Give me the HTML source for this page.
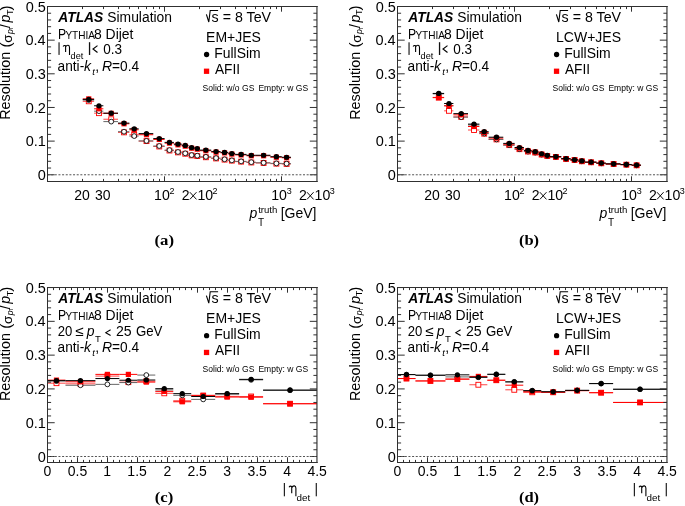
<!DOCTYPE html>
<html><head><meta charset="utf-8"><style>
html,body{margin:0;padding:0;background:#fff;overflow:hidden}
svg{display:block;will-change:transform}
text{font-family:"Liberation Sans",sans-serif;fill:#000}
.ser{font-family:"Liberation Serif",serif;font-weight:bold}
</style></head><body>
<svg width="685" height="506" viewBox="0 0 685 506">
<rect width="685" height="506" fill="#fff"/>
<line x1="82.76" y1="101.30" x2="94.11" y2="101.30" stroke="#f44" stroke-width="1"/>
<line x1="94.11" y1="113.18" x2="103.38" y2="113.18" stroke="#f44" stroke-width="1"/>
<line x1="103.38" y1="119.24" x2="118.01" y2="119.24" stroke="#f44" stroke-width="1"/>
<line x1="118.01" y1="132.37" x2="129.36" y2="132.37" stroke="#f44" stroke-width="1"/>
<line x1="129.36" y1="134.72" x2="138.64" y2="134.72" stroke="#f44" stroke-width="1"/>
<line x1="138.64" y1="141.12" x2="153.27" y2="141.12" stroke="#f44" stroke-width="1"/>
<line x1="153.27" y1="146.50" x2="164.62" y2="146.50" stroke="#f44" stroke-width="1"/>
<line x1="164.62" y1="150.54" x2="173.90" y2="150.54" stroke="#f44" stroke-width="1"/>
<line x1="173.90" y1="152.39" x2="181.74" y2="152.39" stroke="#f44" stroke-width="1"/>
<line x1="181.74" y1="153.74" x2="188.53" y2="153.74" stroke="#f44" stroke-width="1"/>
<line x1="188.53" y1="155.42" x2="194.52" y2="155.42" stroke="#f44" stroke-width="1"/>
<line x1="194.52" y1="156.09" x2="199.88" y2="156.09" stroke="#f44" stroke-width="1"/>
<line x1="199.88" y1="157.27" x2="211.23" y2="157.27" stroke="#f44" stroke-width="1"/>
<line x1="211.23" y1="158.45" x2="220.50" y2="158.45" stroke="#f44" stroke-width="1"/>
<line x1="220.50" y1="159.62" x2="228.34" y2="159.62" stroke="#f44" stroke-width="1"/>
<line x1="228.34" y1="160.63" x2="235.14" y2="160.63" stroke="#f44" stroke-width="1"/>
<line x1="235.14" y1="161.64" x2="246.49" y2="161.64" stroke="#f44" stroke-width="1"/>
<line x1="246.49" y1="162.49" x2="255.76" y2="162.49" stroke="#f44" stroke-width="1"/>
<line x1="255.76" y1="162.99" x2="270.39" y2="162.99" stroke="#f44" stroke-width="1"/>
<line x1="270.39" y1="163.66" x2="281.74" y2="163.66" stroke="#f44" stroke-width="1"/>
<line x1="281.74" y1="163.93" x2="291.02" y2="163.93" stroke="#f44" stroke-width="1"/>
<rect x="86.30" y="98.85" width="4.9" height="4.9" fill="#fff" stroke="#f00" stroke-width="0.9"/>
<rect x="96.51" y="110.73" width="4.9" height="4.9" fill="#fff" stroke="#f00" stroke-width="0.9"/>
<rect x="108.77" y="116.79" width="4.9" height="4.9" fill="#fff" stroke="#f00" stroke-width="0.9"/>
<rect x="121.56" y="129.92" width="4.9" height="4.9" fill="#fff" stroke="#f00" stroke-width="0.9"/>
<rect x="131.76" y="132.27" width="4.9" height="4.9" fill="#fff" stroke="#f00" stroke-width="0.9"/>
<rect x="144.03" y="138.67" width="4.9" height="4.9" fill="#fff" stroke="#f00" stroke-width="0.9"/>
<rect x="156.81" y="144.05" width="4.9" height="4.9" fill="#fff" stroke="#f00" stroke-width="0.9"/>
<rect x="167.02" y="148.09" width="4.9" height="4.9" fill="#fff" stroke="#f00" stroke-width="0.9"/>
<rect x="175.52" y="149.94" width="4.9" height="4.9" fill="#fff" stroke="#f00" stroke-width="0.9"/>
<rect x="182.80" y="151.29" width="4.9" height="4.9" fill="#fff" stroke="#f00" stroke-width="0.9"/>
<rect x="189.16" y="152.97" width="4.9" height="4.9" fill="#fff" stroke="#f00" stroke-width="0.9"/>
<rect x="194.82" y="153.64" width="4.9" height="4.9" fill="#fff" stroke="#f00" stroke-width="0.9"/>
<rect x="203.42" y="154.82" width="4.9" height="4.9" fill="#fff" stroke="#f00" stroke-width="0.9"/>
<rect x="213.63" y="156.00" width="4.9" height="4.9" fill="#fff" stroke="#f00" stroke-width="0.9"/>
<rect x="222.12" y="157.18" width="4.9" height="4.9" fill="#fff" stroke="#f00" stroke-width="0.9"/>
<rect x="229.40" y="158.18" width="4.9" height="4.9" fill="#fff" stroke="#f00" stroke-width="0.9"/>
<rect x="238.68" y="159.19" width="4.9" height="4.9" fill="#fff" stroke="#f00" stroke-width="0.9"/>
<rect x="248.88" y="160.04" width="4.9" height="4.9" fill="#fff" stroke="#f00" stroke-width="0.9"/>
<rect x="261.15" y="160.54" width="4.9" height="4.9" fill="#fff" stroke="#f00" stroke-width="0.9"/>
<rect x="273.93" y="161.21" width="4.9" height="4.9" fill="#fff" stroke="#f00" stroke-width="0.9"/>
<rect x="284.14" y="161.48" width="4.9" height="4.9" fill="#fff" stroke="#f00" stroke-width="0.9"/>
<line x1="82.76" y1="100.06" x2="94.11" y2="100.06" stroke="#666" stroke-width="1"/>
<line x1="94.11" y1="111.16" x2="103.38" y2="111.16" stroke="#666" stroke-width="1"/>
<line x1="103.38" y1="121.60" x2="118.01" y2="121.60" stroke="#666" stroke-width="1"/>
<line x1="118.01" y1="131.69" x2="129.36" y2="131.69" stroke="#666" stroke-width="1"/>
<line x1="129.36" y1="136.07" x2="138.64" y2="136.07" stroke="#666" stroke-width="1"/>
<line x1="138.64" y1="140.91" x2="153.27" y2="140.91" stroke="#666" stroke-width="1"/>
<line x1="153.27" y1="146.00" x2="164.62" y2="146.00" stroke="#666" stroke-width="1"/>
<line x1="164.62" y1="150.10" x2="173.90" y2="150.10" stroke="#666" stroke-width="1"/>
<line x1="173.90" y1="151.99" x2="181.74" y2="151.99" stroke="#666" stroke-width="1"/>
<line x1="181.74" y1="153.30" x2="188.53" y2="153.30" stroke="#666" stroke-width="1"/>
<line x1="188.53" y1="155.08" x2="194.52" y2="155.08" stroke="#666" stroke-width="1"/>
<line x1="194.52" y1="155.69" x2="199.88" y2="155.69" stroke="#666" stroke-width="1"/>
<line x1="199.88" y1="156.80" x2="211.23" y2="156.80" stroke="#666" stroke-width="1"/>
<line x1="211.23" y1="158.08" x2="220.50" y2="158.08" stroke="#666" stroke-width="1"/>
<line x1="220.50" y1="159.29" x2="228.34" y2="159.29" stroke="#666" stroke-width="1"/>
<line x1="228.34" y1="160.37" x2="235.14" y2="160.37" stroke="#666" stroke-width="1"/>
<line x1="235.14" y1="161.38" x2="246.49" y2="161.38" stroke="#666" stroke-width="1"/>
<line x1="246.49" y1="162.18" x2="255.76" y2="162.18" stroke="#666" stroke-width="1"/>
<line x1="255.76" y1="162.79" x2="270.39" y2="162.79" stroke="#666" stroke-width="1"/>
<line x1="270.39" y1="163.39" x2="281.74" y2="163.39" stroke="#666" stroke-width="1"/>
<line x1="281.74" y1="163.66" x2="291.02" y2="163.66" stroke="#666" stroke-width="1"/>
<circle cx="88.75" cy="100.06" r="2.4" fill="#fff" stroke="#000" stroke-width="0.85"/>
<circle cx="98.96" cy="111.16" r="2.4" fill="#fff" stroke="#000" stroke-width="0.85"/>
<circle cx="111.22" cy="121.60" r="2.4" fill="#fff" stroke="#000" stroke-width="0.85"/>
<circle cx="124.01" cy="131.69" r="2.4" fill="#fff" stroke="#000" stroke-width="0.85"/>
<circle cx="134.21" cy="136.07" r="2.4" fill="#fff" stroke="#000" stroke-width="0.85"/>
<circle cx="146.48" cy="140.91" r="2.4" fill="#fff" stroke="#000" stroke-width="0.85"/>
<circle cx="159.26" cy="146.00" r="2.4" fill="#fff" stroke="#000" stroke-width="0.85"/>
<circle cx="169.47" cy="150.10" r="2.4" fill="#fff" stroke="#000" stroke-width="0.85"/>
<circle cx="177.97" cy="151.99" r="2.4" fill="#fff" stroke="#000" stroke-width="0.85"/>
<circle cx="185.25" cy="153.30" r="2.4" fill="#fff" stroke="#000" stroke-width="0.85"/>
<circle cx="191.61" cy="155.08" r="2.4" fill="#fff" stroke="#000" stroke-width="0.85"/>
<circle cx="197.27" cy="155.69" r="2.4" fill="#fff" stroke="#000" stroke-width="0.85"/>
<circle cx="205.87" cy="156.80" r="2.4" fill="#fff" stroke="#000" stroke-width="0.85"/>
<circle cx="216.08" cy="158.08" r="2.4" fill="#fff" stroke="#000" stroke-width="0.85"/>
<circle cx="224.57" cy="159.29" r="2.4" fill="#fff" stroke="#000" stroke-width="0.85"/>
<circle cx="231.85" cy="160.37" r="2.4" fill="#fff" stroke="#000" stroke-width="0.85"/>
<circle cx="241.13" cy="161.38" r="2.4" fill="#fff" stroke="#000" stroke-width="0.85"/>
<circle cx="251.33" cy="162.18" r="2.4" fill="#fff" stroke="#000" stroke-width="0.85"/>
<circle cx="263.60" cy="162.79" r="2.4" fill="#fff" stroke="#000" stroke-width="0.85"/>
<circle cx="276.38" cy="163.39" r="2.4" fill="#fff" stroke="#000" stroke-width="0.85"/>
<circle cx="286.59" cy="163.66" r="2.4" fill="#fff" stroke="#000" stroke-width="0.85"/>
<line x1="82.76" y1="98.91" x2="94.11" y2="98.91" stroke="#f00" stroke-width="1"/>
<line x1="94.11" y1="108.81" x2="103.38" y2="108.81" stroke="#f00" stroke-width="1"/>
<line x1="103.38" y1="113.35" x2="118.01" y2="113.35" stroke="#f00" stroke-width="1"/>
<line x1="118.01" y1="123.78" x2="129.36" y2="123.78" stroke="#f00" stroke-width="1"/>
<line x1="129.36" y1="129.81" x2="138.64" y2="129.81" stroke="#f00" stroke-width="1"/>
<line x1="138.64" y1="134.72" x2="153.27" y2="134.72" stroke="#f00" stroke-width="1"/>
<line x1="153.27" y1="139.43" x2="164.62" y2="139.43" stroke="#f00" stroke-width="1"/>
<line x1="164.62" y1="143.13" x2="173.90" y2="143.13" stroke="#f00" stroke-width="1"/>
<line x1="173.90" y1="144.82" x2="181.74" y2="144.82" stroke="#f00" stroke-width="1"/>
<line x1="181.74" y1="146.16" x2="188.53" y2="146.16" stroke="#f00" stroke-width="1"/>
<line x1="188.53" y1="148.18" x2="194.52" y2="148.18" stroke="#f00" stroke-width="1"/>
<line x1="194.52" y1="149.19" x2="199.88" y2="149.19" stroke="#f00" stroke-width="1"/>
<line x1="199.88" y1="150.71" x2="211.23" y2="150.71" stroke="#f00" stroke-width="1"/>
<line x1="211.23" y1="152.15" x2="220.50" y2="152.15" stroke="#f00" stroke-width="1"/>
<line x1="220.50" y1="152.89" x2="228.34" y2="152.89" stroke="#f00" stroke-width="1"/>
<line x1="228.34" y1="154.07" x2="235.14" y2="154.07" stroke="#f00" stroke-width="1"/>
<line x1="235.14" y1="154.91" x2="246.49" y2="154.91" stroke="#f00" stroke-width="1"/>
<line x1="246.49" y1="155.75" x2="255.76" y2="155.75" stroke="#f00" stroke-width="1"/>
<line x1="255.76" y1="155.75" x2="270.39" y2="155.75" stroke="#f00" stroke-width="1"/>
<line x1="270.39" y1="157.20" x2="281.74" y2="157.20" stroke="#f00" stroke-width="1"/>
<line x1="281.74" y1="157.77" x2="291.02" y2="157.77" stroke="#f00" stroke-width="1"/>
<rect x="86.15" y="96.31" width="5.2" height="5.2" fill="#f00"/>
<rect x="96.36" y="106.21" width="5.2" height="5.2" fill="#f00"/>
<rect x="108.62" y="110.75" width="5.2" height="5.2" fill="#f00"/>
<rect x="121.41" y="121.18" width="5.2" height="5.2" fill="#f00"/>
<rect x="131.61" y="127.21" width="5.2" height="5.2" fill="#f00"/>
<rect x="143.88" y="132.12" width="5.2" height="5.2" fill="#f00"/>
<rect x="156.66" y="136.83" width="5.2" height="5.2" fill="#f00"/>
<rect x="166.87" y="140.53" width="5.2" height="5.2" fill="#f00"/>
<rect x="175.37" y="142.22" width="5.2" height="5.2" fill="#f00"/>
<rect x="182.65" y="143.56" width="5.2" height="5.2" fill="#f00"/>
<rect x="189.01" y="145.58" width="5.2" height="5.2" fill="#f00"/>
<rect x="194.67" y="146.59" width="5.2" height="5.2" fill="#f00"/>
<rect x="203.27" y="148.11" width="5.2" height="5.2" fill="#f00"/>
<rect x="213.48" y="149.55" width="5.2" height="5.2" fill="#f00"/>
<rect x="221.97" y="150.29" width="5.2" height="5.2" fill="#f00"/>
<rect x="229.25" y="151.47" width="5.2" height="5.2" fill="#f00"/>
<rect x="238.53" y="152.31" width="5.2" height="5.2" fill="#f00"/>
<rect x="248.73" y="153.15" width="5.2" height="5.2" fill="#f00"/>
<rect x="261.00" y="153.15" width="5.2" height="5.2" fill="#f00"/>
<rect x="273.78" y="154.60" width="5.2" height="5.2" fill="#f00"/>
<rect x="283.99" y="155.17" width="5.2" height="5.2" fill="#f00"/>
<line x1="82.76" y1="99.38" x2="94.11" y2="99.38" stroke="#000" stroke-width="1"/>
<line x1="94.11" y1="105.78" x2="103.38" y2="105.78" stroke="#000" stroke-width="1"/>
<line x1="103.38" y1="113.18" x2="118.01" y2="113.18" stroke="#000" stroke-width="1"/>
<line x1="118.01" y1="123.11" x2="129.36" y2="123.11" stroke="#000" stroke-width="1"/>
<line x1="129.36" y1="128.80" x2="138.64" y2="128.80" stroke="#000" stroke-width="1"/>
<line x1="138.64" y1="133.61" x2="153.27" y2="133.61" stroke="#000" stroke-width="1"/>
<line x1="153.27" y1="138.59" x2="164.62" y2="138.59" stroke="#000" stroke-width="1"/>
<line x1="164.62" y1="142.39" x2="173.90" y2="142.39" stroke="#000" stroke-width="1"/>
<line x1="173.90" y1="144.08" x2="181.74" y2="144.08" stroke="#000" stroke-width="1"/>
<line x1="181.74" y1="145.39" x2="188.53" y2="145.39" stroke="#000" stroke-width="1"/>
<line x1="188.53" y1="147.58" x2="194.52" y2="147.58" stroke="#000" stroke-width="1"/>
<line x1="194.52" y1="148.52" x2="199.88" y2="148.52" stroke="#000" stroke-width="1"/>
<line x1="199.88" y1="150.10" x2="211.23" y2="150.10" stroke="#000" stroke-width="1"/>
<line x1="211.23" y1="151.58" x2="220.50" y2="151.58" stroke="#000" stroke-width="1"/>
<line x1="220.50" y1="152.39" x2="228.34" y2="152.39" stroke="#000" stroke-width="1"/>
<line x1="228.34" y1="153.57" x2="235.14" y2="153.57" stroke="#000" stroke-width="1"/>
<line x1="235.14" y1="154.38" x2="246.49" y2="154.38" stroke="#000" stroke-width="1"/>
<line x1="246.49" y1="155.25" x2="255.76" y2="155.25" stroke="#000" stroke-width="1"/>
<line x1="255.76" y1="155.25" x2="270.39" y2="155.25" stroke="#000" stroke-width="1"/>
<line x1="270.39" y1="156.70" x2="281.74" y2="156.70" stroke="#000" stroke-width="1"/>
<line x1="281.74" y1="157.27" x2="291.02" y2="157.27" stroke="#000" stroke-width="1"/>
<circle cx="88.75" cy="99.38" r="2.6" fill="#000"/>
<circle cx="98.96" cy="105.78" r="2.6" fill="#000"/>
<circle cx="111.22" cy="113.18" r="2.6" fill="#000"/>
<circle cx="124.01" cy="123.11" r="2.6" fill="#000"/>
<circle cx="134.21" cy="128.80" r="2.6" fill="#000"/>
<circle cx="146.48" cy="133.61" r="2.6" fill="#000"/>
<circle cx="159.26" cy="138.59" r="2.6" fill="#000"/>
<circle cx="169.47" cy="142.39" r="2.6" fill="#000"/>
<circle cx="177.97" cy="144.08" r="2.6" fill="#000"/>
<circle cx="185.25" cy="145.39" r="2.6" fill="#000"/>
<circle cx="191.61" cy="147.58" r="2.6" fill="#000"/>
<circle cx="197.27" cy="148.52" r="2.6" fill="#000"/>
<circle cx="205.87" cy="150.10" r="2.6" fill="#000"/>
<circle cx="216.08" cy="151.58" r="2.6" fill="#000"/>
<circle cx="224.57" cy="152.39" r="2.6" fill="#000"/>
<circle cx="231.85" cy="153.57" r="2.6" fill="#000"/>
<circle cx="241.13" cy="154.38" r="2.6" fill="#000"/>
<circle cx="251.33" cy="155.25" r="2.6" fill="#000"/>
<circle cx="263.60" cy="155.25" r="2.6" fill="#000"/>
<circle cx="276.38" cy="156.70" r="2.6" fill="#000"/>
<circle cx="286.59" cy="157.27" r="2.6" fill="#000"/>
<path d="M47.5,174.77h7.2M317.0,174.77h-7.2M47.5,168.04h3.6M317.0,168.04h-3.6M47.5,161.31h3.6M317.0,161.31h-3.6M47.5,154.58h3.6M317.0,154.58h-3.6M47.5,147.85h3.6M317.0,147.85h-3.6M47.5,141.12h7.2M317.0,141.12h-7.2M47.5,134.38h3.6M317.0,134.38h-3.6M47.5,127.65h3.6M317.0,127.65h-3.6M47.5,120.92h3.6M317.0,120.92h-3.6M47.5,114.19h3.6M317.0,114.19h-3.6M47.5,107.46h7.2M317.0,107.46h-7.2M47.5,100.73h3.6M317.0,100.73h-3.6M47.5,94.00h3.6M317.0,94.00h-3.6M47.5,87.27h3.6M317.0,87.27h-3.6M47.5,80.54h3.6M317.0,80.54h-3.6M47.5,73.81h7.2M317.0,73.81h-7.2M47.5,67.08h3.6M317.0,67.08h-3.6M47.5,60.35h3.6M317.0,60.35h-3.6M47.5,53.62h3.6M317.0,53.62h-3.6M47.5,46.88h3.6M317.0,46.88h-3.6M47.5,40.15h7.2M317.0,40.15h-7.2M47.5,33.42h3.6M317.0,33.42h-3.6M47.5,26.69h3.6M317.0,26.69h-3.6M47.5,19.96h3.6M317.0,19.96h-3.6M47.5,13.23h3.6M317.0,13.23h-3.6M47.5,6.50h7.2M317.0,6.50h-7.2M82.50,181.5v-2.6M82.50,6.5v2.6M103.50,181.5v-2.6M103.50,6.5v2.6M118.50,181.5v-2.6M118.50,6.5v2.6M129.50,181.5v-2.6M129.50,6.5v2.6M138.50,181.5v-2.6M138.50,6.5v2.6M146.50,181.5v-2.6M146.50,6.5v2.6M153.50,181.5v-2.6M153.50,6.5v2.6M159.50,181.5v-2.6M159.50,6.5v2.6M164.50,181.5v-5.2M164.50,6.5v5.2M199.50,181.5v-2.6M199.50,6.5v2.6M220.50,181.5v-2.6M220.50,6.5v2.6M235.50,181.5v-2.6M235.50,6.5v2.6M246.50,181.5v-2.6M246.50,6.5v2.6M255.50,181.5v-2.6M255.50,6.5v2.6M263.50,181.5v-2.6M263.50,6.5v2.6M270.50,181.5v-2.6M270.50,6.5v2.6M276.50,181.5v-2.6M276.50,6.5v2.6M281.50,181.5v-5.2M281.50,6.5v5.2" stroke="#303030" stroke-width="1" fill="none"/>
<line x1="47.5" y1="174.77" x2="317.0" y2="174.77" stroke="#555" stroke-width="1" stroke-dasharray="2,1.65"/>
<path d="M47.5,6.0V182.0M47.0,6.5H317.7M47.0,181.5H317.7" fill="none" stroke="#303030" stroke-width="1"/>
<path d="M316.95,6.0V182.0" fill="none" stroke="#303030" stroke-width="1.15"/>
<text id="a_yl0" x="37.70" y="179.87" font-size="14.5">0</text>
<text id="a_yl1" x="25.75" y="146.22" font-size="14.5">0.1</text>
<text id="a_yl2" x="25.77" y="112.56" font-size="14.5">0.2</text>
<text id="a_yl3" x="25.68" y="78.91" font-size="14.5">0.3</text>
<text id="a_yl4" x="25.47" y="45.25" font-size="14.5">0.4</text>
<text id="a_yl5" x="25.65" y="11.60" font-size="14.5">0.5</text>
<text id="a_x20" x="74.34" y="199.80" font-size="14">20</text>
<text id="a_x30" x="95.02" y="199.80" font-size="14">30</text>
<text id="a_x100" x="154.09" y="199.80" font-size="14" textLength="15.73" lengthAdjust="spacingAndGlyphs">10</text>
<text id="a_x100s" x="169.42" y="193.70" font-size="9">2</text>
<text id="a_x200a" x="181.77" y="199.80" font-size="14">2</text>
<path d="M189.88,192.20L196.48,199.40M196.48,192.20L189.88,199.40" stroke="#000" stroke-width="0.95" fill="none"/>
<text id="a_x200b" x="197.50" y="199.80" font-size="14" textLength="15.73" lengthAdjust="spacingAndGlyphs">10</text>
<text id="a_x200s" x="212.43" y="193.70" font-size="9">2</text>
<text id="a_x1000" x="271.22" y="199.80" font-size="14" textLength="15.73" lengthAdjust="spacingAndGlyphs">10</text>
<text id="a_x1000s" x="286.65" y="193.70" font-size="9">3</text>
<text id="a_x2000a" x="298.90" y="199.80" font-size="14">2</text>
<path d="M307.00,192.20L313.60,199.40M313.60,192.20L307.00,199.40" stroke="#000" stroke-width="0.95" fill="none"/>
<text id="a_x2000b" x="314.62" y="199.80" font-size="14" textLength="15.73" lengthAdjust="spacingAndGlyphs">10</text>
<text id="a_x2000s" x="329.66" y="193.70" font-size="9">3</text>
<text id="a_xt_p" x="249.55" y="217.90" font-size="14" font-style="italic">p</text>
<text id="a_xt_tr" x="258.16" y="212.80" font-size="9.6" textLength="19.17" lengthAdjust="spacingAndGlyphs">truth</text>
<text id="a_xt_T" x="258.08" y="225.50" font-size="10">T</text>
<text id="a_xt_gev" x="280.70" y="218.30" font-size="14">[GeV]</text>
<text id="a_yt1" transform="translate(10.30,118.70) rotate(-90)" x="-1.18" y="0" font-size="14.6" textLength="68.12" lengthAdjust="spacingAndGlyphs">Resolution</text>
<text id="a_yt2" transform="translate(10.80,118.70) rotate(-90)" x="71.26" y="0" font-size="15.2">(</text>
<text id="a_yt3" transform="translate(11.90,118.70) rotate(-90)" x="75.93" y="0" font-size="13.5">σ</text>
<text id="a_yt4" transform="translate(12.50,118.70) rotate(-90)" x="84.71" y="0" font-size="8.5" font-style="italic">p</text>
<text id="a_yt5" transform="translate(13.30,118.70) rotate(-90)" x="88.57" y="0" font-size="6">T</text>
<text id="a_yt6" transform="translate(10.30,118.70) rotate(-90)" x="90.70" y="0" font-size="14.2">/</text>
<text id="a_yt7" transform="translate(10.30,118.70) rotate(-90)" x="96.25" y="0" font-size="14.2" font-style="italic">p</text>
<text id="a_yt8" transform="translate(12.90,118.70) rotate(-90)" x="103.70" y="0" font-size="9">T</text>
<text id="a_yt9" transform="translate(10.80,118.70) rotate(-90)" x="108.11" y="0" font-size="15.2">)</text>
<text id="a_atlas" x="58.33" y="22.00" font-size="14" font-weight="bold" font-style="italic" textLength="44.96" lengthAdjust="spacingAndGlyphs">ATLAS</text>
<text id="a_sim" x="107.27" y="22.00" font-size="14" textLength="64.73" lengthAdjust="spacingAndGlyphs">Simulation</text>
<text id="a_pyP" x="58.10" y="38.70" font-size="14" textLength="8.15" lengthAdjust="spacingAndGlyphs">P</text>
<text id="a_pyY" x="65.38" y="38.70" font-size="10.2" textLength="29.54" lengthAdjust="spacingAndGlyphs">YTHIA</text>
<text id="a_pyD" x="93.99" y="38.70" font-size="14" textLength="39.51" lengthAdjust="spacingAndGlyphs">8 Dijet</text>
<rect x="58.4" y="42.3" width="1.3" height="12.6" fill="#333"/>
<rect x="88.9" y="42.2" width="1.3" height="12.8" fill="#111"/>
<path d="M63.10,46.50Q64.10,44.90 65.60,45.80L65.60,52.00M65.60,47.00Q66.70,45.00 68.10,45.30Q69.50,45.60 69.50,47.40L69.50,54.90" fill="none" stroke="#000" stroke-width="1.1"/>
<text id="a_det" x="70.61" y="58.60" font-size="9.3" textLength="12.75" lengthAdjust="spacingAndGlyphs">det</text>
<path d="M97.5,45.6L93.0,49.05L97.5,52.5" fill="none" stroke="#000" stroke-width="1.15"/>
<text id="a_03" x="103.17" y="53.70" font-size="14" textLength="18.82" lengthAdjust="spacingAndGlyphs">0.3</text>
<text id="a_anti" x="57.62" y="70.90" font-size="14" textLength="26.59" lengthAdjust="spacingAndGlyphs">anti-</text>
<text id="a_k" x="84.07" y="70.90" font-size="14" font-style="italic">k</text>
<text id="a_t" x="92.17" y="74.50" font-size="9.5" font-style="italic">t</text>
<text id="a_comma" x="95.14" y="70.90" font-size="14">,</text>
<text id="a_R" x="101.97" y="70.90" font-size="14" font-style="italic">R</text>
<text id="a_eq" x="112.03" y="70.90" font-size="14" textLength="27.07" lengthAdjust="spacingAndGlyphs">=0.4</text>
<path d="M206.4,14.4L208.8,22.0L210.2,10.5H218.1" fill="none" stroke="#000" stroke-width="1.1"/>
<text id="a_sqrt" x="211.62" y="21.80" font-size="14" textLength="59.44" lengthAdjust="spacingAndGlyphs">s = 8 TeV</text>
<text id="a_alg" x="206.05" y="41.50" font-size="14">EM+JES</text>
<circle cx="206.6" cy="54.5" r="2.65" fill="#000"/>
<text id="a_fs" x="214.26" y="57.60" font-size="14" textLength="46.46" lengthAdjust="spacingAndGlyphs">FullSim</text>
<rect x="203.9" y="68.6" width="5.3" height="5.3" fill="#f00"/>
<text id="a_af" x="214.97" y="73.90" font-size="14" textLength="25.09" lengthAdjust="spacingAndGlyphs">AFII</text>
<text id="a_sm1" x="202.51" y="91.00" font-size="8.6" textLength="51.88" lengthAdjust="spacingAndGlyphs">Solid: w/o GS</text>
<text id="a_sm2" x="258.40" y="91.00" font-size="8.6" textLength="49.79" lengthAdjust="spacingAndGlyphs">Empty: w GS</text>
<line x1="432.76" y1="97.70" x2="444.11" y2="97.70" stroke="#f44" stroke-width="1"/>
<line x1="444.11" y1="110.83" x2="453.38" y2="110.83" stroke="#f44" stroke-width="1"/>
<line x1="453.38" y1="116.88" x2="468.01" y2="116.88" stroke="#f44" stroke-width="1"/>
<line x1="468.01" y1="130.01" x2="479.36" y2="130.01" stroke="#f44" stroke-width="1"/>
<line x1="479.36" y1="133.71" x2="488.64" y2="133.71" stroke="#f44" stroke-width="1"/>
<line x1="488.64" y1="139.43" x2="503.27" y2="139.43" stroke="#f44" stroke-width="1"/>
<line x1="503.27" y1="145.15" x2="514.62" y2="145.15" stroke="#f44" stroke-width="1"/>
<line x1="514.62" y1="149.19" x2="523.90" y2="149.19" stroke="#f44" stroke-width="1"/>
<line x1="523.90" y1="151.55" x2="531.74" y2="151.55" stroke="#f44" stroke-width="1"/>
<line x1="531.74" y1="152.56" x2="538.53" y2="152.56" stroke="#f44" stroke-width="1"/>
<line x1="538.53" y1="154.58" x2="544.52" y2="154.58" stroke="#f44" stroke-width="1"/>
<line x1="544.52" y1="155.92" x2="549.88" y2="155.92" stroke="#f44" stroke-width="1"/>
<line x1="549.88" y1="156.93" x2="561.23" y2="156.93" stroke="#f44" stroke-width="1"/>
<line x1="561.23" y1="158.95" x2="570.50" y2="158.95" stroke="#f44" stroke-width="1"/>
<line x1="570.50" y1="159.96" x2="578.34" y2="159.96" stroke="#f44" stroke-width="1"/>
<line x1="578.34" y1="161.31" x2="585.14" y2="161.31" stroke="#f44" stroke-width="1"/>
<line x1="585.14" y1="162.32" x2="596.49" y2="162.32" stroke="#f44" stroke-width="1"/>
<line x1="596.49" y1="163.33" x2="605.76" y2="163.33" stroke="#f44" stroke-width="1"/>
<line x1="605.76" y1="164.00" x2="620.39" y2="164.00" stroke="#f44" stroke-width="1"/>
<line x1="620.39" y1="164.67" x2="631.74" y2="164.67" stroke="#f44" stroke-width="1"/>
<line x1="631.74" y1="165.35" x2="641.02" y2="165.35" stroke="#f44" stroke-width="1"/>
<rect x="436.30" y="95.25" width="4.9" height="4.9" fill="#fff" stroke="#f00" stroke-width="0.9"/>
<rect x="446.51" y="108.38" width="4.9" height="4.9" fill="#fff" stroke="#f00" stroke-width="0.9"/>
<rect x="458.77" y="114.43" width="4.9" height="4.9" fill="#fff" stroke="#f00" stroke-width="0.9"/>
<rect x="471.56" y="127.56" width="4.9" height="4.9" fill="#fff" stroke="#f00" stroke-width="0.9"/>
<rect x="481.76" y="131.26" width="4.9" height="4.9" fill="#fff" stroke="#f00" stroke-width="0.9"/>
<rect x="494.03" y="136.98" width="4.9" height="4.9" fill="#fff" stroke="#f00" stroke-width="0.9"/>
<rect x="506.81" y="142.70" width="4.9" height="4.9" fill="#fff" stroke="#f00" stroke-width="0.9"/>
<rect x="517.02" y="146.74" width="4.9" height="4.9" fill="#fff" stroke="#f00" stroke-width="0.9"/>
<rect x="525.52" y="149.10" width="4.9" height="4.9" fill="#fff" stroke="#f00" stroke-width="0.9"/>
<rect x="532.80" y="150.11" width="4.9" height="4.9" fill="#fff" stroke="#f00" stroke-width="0.9"/>
<rect x="539.16" y="152.13" width="4.9" height="4.9" fill="#fff" stroke="#f00" stroke-width="0.9"/>
<rect x="544.82" y="153.47" width="4.9" height="4.9" fill="#fff" stroke="#f00" stroke-width="0.9"/>
<rect x="553.42" y="154.48" width="4.9" height="4.9" fill="#fff" stroke="#f00" stroke-width="0.9"/>
<rect x="563.63" y="156.50" width="4.9" height="4.9" fill="#fff" stroke="#f00" stroke-width="0.9"/>
<rect x="572.12" y="157.51" width="4.9" height="4.9" fill="#fff" stroke="#f00" stroke-width="0.9"/>
<rect x="579.40" y="158.86" width="4.9" height="4.9" fill="#fff" stroke="#f00" stroke-width="0.9"/>
<rect x="588.68" y="159.87" width="4.9" height="4.9" fill="#fff" stroke="#f00" stroke-width="0.9"/>
<rect x="598.88" y="160.88" width="4.9" height="4.9" fill="#fff" stroke="#f00" stroke-width="0.9"/>
<rect x="611.15" y="161.55" width="4.9" height="4.9" fill="#fff" stroke="#f00" stroke-width="0.9"/>
<rect x="623.93" y="162.22" width="4.9" height="4.9" fill="#fff" stroke="#f00" stroke-width="0.9"/>
<rect x="634.14" y="162.90" width="4.9" height="4.9" fill="#fff" stroke="#f00" stroke-width="0.9"/>
<line x1="432.76" y1="93.83" x2="444.11" y2="93.83" stroke="#666" stroke-width="1"/>
<line x1="444.11" y1="105.78" x2="453.38" y2="105.78" stroke="#666" stroke-width="1"/>
<line x1="453.38" y1="117.12" x2="468.01" y2="117.12" stroke="#666" stroke-width="1"/>
<line x1="468.01" y1="124.96" x2="479.36" y2="124.96" stroke="#666" stroke-width="1"/>
<line x1="479.36" y1="133.51" x2="488.64" y2="133.51" stroke="#666" stroke-width="1"/>
<line x1="488.64" y1="139.43" x2="503.27" y2="139.43" stroke="#666" stroke-width="1"/>
<line x1="503.27" y1="145.15" x2="514.62" y2="145.15" stroke="#666" stroke-width="1"/>
<line x1="514.62" y1="149.19" x2="523.90" y2="149.19" stroke="#666" stroke-width="1"/>
<line x1="523.90" y1="151.55" x2="531.74" y2="151.55" stroke="#666" stroke-width="1"/>
<line x1="531.74" y1="152.56" x2="538.53" y2="152.56" stroke="#666" stroke-width="1"/>
<line x1="538.53" y1="154.58" x2="544.52" y2="154.58" stroke="#666" stroke-width="1"/>
<line x1="544.52" y1="155.92" x2="549.88" y2="155.92" stroke="#666" stroke-width="1"/>
<line x1="549.88" y1="156.93" x2="561.23" y2="156.93" stroke="#666" stroke-width="1"/>
<line x1="561.23" y1="158.95" x2="570.50" y2="158.95" stroke="#666" stroke-width="1"/>
<line x1="570.50" y1="159.96" x2="578.34" y2="159.96" stroke="#666" stroke-width="1"/>
<line x1="578.34" y1="161.31" x2="585.14" y2="161.31" stroke="#666" stroke-width="1"/>
<line x1="585.14" y1="162.32" x2="596.49" y2="162.32" stroke="#666" stroke-width="1"/>
<line x1="596.49" y1="163.33" x2="605.76" y2="163.33" stroke="#666" stroke-width="1"/>
<line x1="605.76" y1="164.00" x2="620.39" y2="164.00" stroke="#666" stroke-width="1"/>
<line x1="620.39" y1="164.67" x2="631.74" y2="164.67" stroke="#666" stroke-width="1"/>
<line x1="631.74" y1="165.35" x2="641.02" y2="165.35" stroke="#666" stroke-width="1"/>
<circle cx="438.75" cy="93.83" r="2.4" fill="#fff" stroke="#000" stroke-width="0.85"/>
<circle cx="448.96" cy="105.78" r="2.4" fill="#fff" stroke="#000" stroke-width="0.85"/>
<circle cx="461.22" cy="117.12" r="2.4" fill="#fff" stroke="#000" stroke-width="0.85"/>
<circle cx="474.01" cy="124.96" r="2.4" fill="#fff" stroke="#000" stroke-width="0.85"/>
<circle cx="484.21" cy="133.51" r="2.4" fill="#fff" stroke="#000" stroke-width="0.85"/>
<circle cx="496.48" cy="139.43" r="2.4" fill="#fff" stroke="#000" stroke-width="0.85"/>
<circle cx="509.26" cy="145.15" r="2.4" fill="#fff" stroke="#000" stroke-width="0.85"/>
<circle cx="519.47" cy="149.19" r="2.4" fill="#fff" stroke="#000" stroke-width="0.85"/>
<circle cx="527.97" cy="151.55" r="2.4" fill="#fff" stroke="#000" stroke-width="0.85"/>
<circle cx="535.25" cy="152.56" r="2.4" fill="#fff" stroke="#000" stroke-width="0.85"/>
<circle cx="541.61" cy="154.58" r="2.4" fill="#fff" stroke="#000" stroke-width="0.85"/>
<circle cx="547.27" cy="155.92" r="2.4" fill="#fff" stroke="#000" stroke-width="0.85"/>
<circle cx="555.87" cy="156.93" r="2.4" fill="#fff" stroke="#000" stroke-width="0.85"/>
<circle cx="566.08" cy="158.95" r="2.4" fill="#fff" stroke="#000" stroke-width="0.85"/>
<circle cx="574.57" cy="159.96" r="2.4" fill="#fff" stroke="#000" stroke-width="0.85"/>
<circle cx="581.85" cy="161.31" r="2.4" fill="#fff" stroke="#000" stroke-width="0.85"/>
<circle cx="591.13" cy="162.32" r="2.4" fill="#fff" stroke="#000" stroke-width="0.85"/>
<circle cx="601.33" cy="163.33" r="2.4" fill="#fff" stroke="#000" stroke-width="0.85"/>
<circle cx="613.60" cy="164.00" r="2.4" fill="#fff" stroke="#000" stroke-width="0.85"/>
<circle cx="626.38" cy="164.67" r="2.4" fill="#fff" stroke="#000" stroke-width="0.85"/>
<circle cx="636.59" cy="165.35" r="2.4" fill="#fff" stroke="#000" stroke-width="0.85"/>
<line x1="432.76" y1="97.43" x2="444.11" y2="97.43" stroke="#f00" stroke-width="1"/>
<line x1="444.11" y1="105.78" x2="453.38" y2="105.78" stroke="#f00" stroke-width="1"/>
<line x1="453.38" y1="114.87" x2="468.01" y2="114.87" stroke="#f00" stroke-width="1"/>
<line x1="468.01" y1="126.51" x2="479.36" y2="126.51" stroke="#f00" stroke-width="1"/>
<line x1="479.36" y1="132.37" x2="488.64" y2="132.37" stroke="#f00" stroke-width="1"/>
<line x1="488.64" y1="138.09" x2="503.27" y2="138.09" stroke="#f00" stroke-width="1"/>
<line x1="503.27" y1="144.14" x2="514.62" y2="144.14" stroke="#f00" stroke-width="1"/>
<line x1="514.62" y1="148.18" x2="523.90" y2="148.18" stroke="#f00" stroke-width="1"/>
<line x1="523.90" y1="150.88" x2="531.74" y2="150.88" stroke="#f00" stroke-width="1"/>
<line x1="531.74" y1="152.22" x2="538.53" y2="152.22" stroke="#f00" stroke-width="1"/>
<line x1="538.53" y1="154.24" x2="544.52" y2="154.24" stroke="#f00" stroke-width="1"/>
<line x1="544.52" y1="155.75" x2="549.88" y2="155.75" stroke="#f00" stroke-width="1"/>
<line x1="549.88" y1="156.93" x2="561.23" y2="156.93" stroke="#f00" stroke-width="1"/>
<line x1="561.23" y1="158.95" x2="570.50" y2="158.95" stroke="#f00" stroke-width="1"/>
<line x1="570.50" y1="160.13" x2="578.34" y2="160.13" stroke="#f00" stroke-width="1"/>
<line x1="578.34" y1="161.31" x2="585.14" y2="161.31" stroke="#f00" stroke-width="1"/>
<line x1="585.14" y1="162.32" x2="596.49" y2="162.32" stroke="#f00" stroke-width="1"/>
<line x1="596.49" y1="163.33" x2="605.76" y2="163.33" stroke="#f00" stroke-width="1"/>
<line x1="605.76" y1="164.00" x2="620.39" y2="164.00" stroke="#f00" stroke-width="1"/>
<line x1="620.39" y1="164.67" x2="631.74" y2="164.67" stroke="#f00" stroke-width="1"/>
<line x1="631.74" y1="165.35" x2="641.02" y2="165.35" stroke="#f00" stroke-width="1"/>
<rect x="436.15" y="94.83" width="5.2" height="5.2" fill="#f00"/>
<rect x="446.36" y="103.18" width="5.2" height="5.2" fill="#f00"/>
<rect x="458.62" y="112.27" width="5.2" height="5.2" fill="#f00"/>
<rect x="471.41" y="123.91" width="5.2" height="5.2" fill="#f00"/>
<rect x="481.61" y="129.77" width="5.2" height="5.2" fill="#f00"/>
<rect x="493.88" y="135.49" width="5.2" height="5.2" fill="#f00"/>
<rect x="506.66" y="141.54" width="5.2" height="5.2" fill="#f00"/>
<rect x="516.87" y="145.58" width="5.2" height="5.2" fill="#f00"/>
<rect x="525.37" y="148.28" width="5.2" height="5.2" fill="#f00"/>
<rect x="532.65" y="149.62" width="5.2" height="5.2" fill="#f00"/>
<rect x="539.01" y="151.64" width="5.2" height="5.2" fill="#f00"/>
<rect x="544.67" y="153.15" width="5.2" height="5.2" fill="#f00"/>
<rect x="553.27" y="154.33" width="5.2" height="5.2" fill="#f00"/>
<rect x="563.48" y="156.35" width="5.2" height="5.2" fill="#f00"/>
<rect x="571.97" y="157.53" width="5.2" height="5.2" fill="#f00"/>
<rect x="579.25" y="158.71" width="5.2" height="5.2" fill="#f00"/>
<rect x="588.53" y="159.72" width="5.2" height="5.2" fill="#f00"/>
<rect x="598.73" y="160.73" width="5.2" height="5.2" fill="#f00"/>
<rect x="611.00" y="161.40" width="5.2" height="5.2" fill="#f00"/>
<rect x="623.78" y="162.07" width="5.2" height="5.2" fill="#f00"/>
<rect x="633.99" y="162.75" width="5.2" height="5.2" fill="#f00"/>
<line x1="432.76" y1="93.43" x2="444.11" y2="93.43" stroke="#000" stroke-width="1"/>
<line x1="444.11" y1="103.52" x2="453.38" y2="103.52" stroke="#000" stroke-width="1"/>
<line x1="453.38" y1="113.62" x2="468.01" y2="113.62" stroke="#000" stroke-width="1"/>
<line x1="468.01" y1="124.12" x2="479.36" y2="124.12" stroke="#000" stroke-width="1"/>
<line x1="479.36" y1="131.69" x2="488.64" y2="131.69" stroke="#000" stroke-width="1"/>
<line x1="488.64" y1="137.21" x2="503.27" y2="137.21" stroke="#000" stroke-width="1"/>
<line x1="503.27" y1="143.40" x2="514.62" y2="143.40" stroke="#000" stroke-width="1"/>
<line x1="514.62" y1="147.51" x2="523.90" y2="147.51" stroke="#000" stroke-width="1"/>
<line x1="523.90" y1="150.40" x2="531.74" y2="150.40" stroke="#000" stroke-width="1"/>
<line x1="531.74" y1="151.68" x2="538.53" y2="151.68" stroke="#000" stroke-width="1"/>
<line x1="538.53" y1="153.74" x2="544.52" y2="153.74" stroke="#000" stroke-width="1"/>
<line x1="544.52" y1="155.35" x2="549.88" y2="155.35" stroke="#000" stroke-width="1"/>
<line x1="549.88" y1="156.60" x2="561.23" y2="156.60" stroke="#000" stroke-width="1"/>
<line x1="561.23" y1="158.58" x2="570.50" y2="158.58" stroke="#000" stroke-width="1"/>
<line x1="570.50" y1="159.83" x2="578.34" y2="159.83" stroke="#000" stroke-width="1"/>
<line x1="578.34" y1="160.97" x2="585.14" y2="160.97" stroke="#000" stroke-width="1"/>
<line x1="585.14" y1="162.08" x2="596.49" y2="162.08" stroke="#000" stroke-width="1"/>
<line x1="596.49" y1="163.09" x2="605.76" y2="163.09" stroke="#000" stroke-width="1"/>
<line x1="605.76" y1="163.87" x2="620.39" y2="163.87" stroke="#000" stroke-width="1"/>
<line x1="620.39" y1="164.47" x2="631.74" y2="164.47" stroke="#000" stroke-width="1"/>
<line x1="631.74" y1="165.11" x2="641.02" y2="165.11" stroke="#000" stroke-width="1"/>
<circle cx="438.75" cy="93.43" r="2.6" fill="#000"/>
<circle cx="448.96" cy="103.52" r="2.6" fill="#000"/>
<circle cx="461.22" cy="113.62" r="2.6" fill="#000"/>
<circle cx="474.01" cy="124.12" r="2.6" fill="#000"/>
<circle cx="484.21" cy="131.69" r="2.6" fill="#000"/>
<circle cx="496.48" cy="137.21" r="2.6" fill="#000"/>
<circle cx="509.26" cy="143.40" r="2.6" fill="#000"/>
<circle cx="519.47" cy="147.51" r="2.6" fill="#000"/>
<circle cx="527.97" cy="150.40" r="2.6" fill="#000"/>
<circle cx="535.25" cy="151.68" r="2.6" fill="#000"/>
<circle cx="541.61" cy="153.74" r="2.6" fill="#000"/>
<circle cx="547.27" cy="155.35" r="2.6" fill="#000"/>
<circle cx="555.87" cy="156.60" r="2.6" fill="#000"/>
<circle cx="566.08" cy="158.58" r="2.6" fill="#000"/>
<circle cx="574.57" cy="159.83" r="2.6" fill="#000"/>
<circle cx="581.85" cy="160.97" r="2.6" fill="#000"/>
<circle cx="591.13" cy="162.08" r="2.6" fill="#000"/>
<circle cx="601.33" cy="163.09" r="2.6" fill="#000"/>
<circle cx="613.60" cy="163.87" r="2.6" fill="#000"/>
<circle cx="626.38" cy="164.47" r="2.6" fill="#000"/>
<circle cx="636.59" cy="165.11" r="2.6" fill="#000"/>
<path d="M397.5,174.77h7.2M667.0,174.77h-7.2M397.5,168.04h3.6M667.0,168.04h-3.6M397.5,161.31h3.6M667.0,161.31h-3.6M397.5,154.58h3.6M667.0,154.58h-3.6M397.5,147.85h3.6M667.0,147.85h-3.6M397.5,141.12h7.2M667.0,141.12h-7.2M397.5,134.38h3.6M667.0,134.38h-3.6M397.5,127.65h3.6M667.0,127.65h-3.6M397.5,120.92h3.6M667.0,120.92h-3.6M397.5,114.19h3.6M667.0,114.19h-3.6M397.5,107.46h7.2M667.0,107.46h-7.2M397.5,100.73h3.6M667.0,100.73h-3.6M397.5,94.00h3.6M667.0,94.00h-3.6M397.5,87.27h3.6M667.0,87.27h-3.6M397.5,80.54h3.6M667.0,80.54h-3.6M397.5,73.81h7.2M667.0,73.81h-7.2M397.5,67.08h3.6M667.0,67.08h-3.6M397.5,60.35h3.6M667.0,60.35h-3.6M397.5,53.62h3.6M667.0,53.62h-3.6M397.5,46.88h3.6M667.0,46.88h-3.6M397.5,40.15h7.2M667.0,40.15h-7.2M397.5,33.42h3.6M667.0,33.42h-3.6M397.5,26.69h3.6M667.0,26.69h-3.6M397.5,19.96h3.6M667.0,19.96h-3.6M397.5,13.23h3.6M667.0,13.23h-3.6M397.5,6.50h7.2M667.0,6.50h-7.2M432.50,181.5v-2.6M432.50,6.5v2.6M453.50,181.5v-2.6M453.50,6.5v2.6M468.50,181.5v-2.6M468.50,6.5v2.6M479.50,181.5v-2.6M479.50,6.5v2.6M488.50,181.5v-2.6M488.50,6.5v2.6M496.50,181.5v-2.6M496.50,6.5v2.6M503.50,181.5v-2.6M503.50,6.5v2.6M509.50,181.5v-2.6M509.50,6.5v2.6M514.50,181.5v-5.2M514.50,6.5v5.2M549.50,181.5v-2.6M549.50,6.5v2.6M570.50,181.5v-2.6M570.50,6.5v2.6M585.50,181.5v-2.6M585.50,6.5v2.6M596.50,181.5v-2.6M596.50,6.5v2.6M605.50,181.5v-2.6M605.50,6.5v2.6M613.50,181.5v-2.6M613.50,6.5v2.6M620.50,181.5v-2.6M620.50,6.5v2.6M626.50,181.5v-2.6M626.50,6.5v2.6M631.50,181.5v-5.2M631.50,6.5v5.2" stroke="#303030" stroke-width="1" fill="none"/>
<line x1="397.5" y1="174.77" x2="667.0" y2="174.77" stroke="#555" stroke-width="1" stroke-dasharray="2,1.65"/>
<path d="M397.5,6.0V182.0M397.0,6.5H667.7M397.0,181.5H667.7" fill="none" stroke="#303030" stroke-width="1"/>
<path d="M666.95,6.0V182.0" fill="none" stroke="#303030" stroke-width="1.15"/>
<text id="b_yl0" x="387.70" y="179.87" font-size="14.5">0</text>
<text id="b_yl1" x="375.75" y="146.22" font-size="14.5">0.1</text>
<text id="b_yl2" x="375.77" y="112.56" font-size="14.5">0.2</text>
<text id="b_yl3" x="375.68" y="78.91" font-size="14.5">0.3</text>
<text id="b_yl4" x="375.47" y="45.25" font-size="14.5">0.4</text>
<text id="b_yl5" x="375.65" y="11.60" font-size="14.5">0.5</text>
<text id="b_x20" x="424.34" y="199.80" font-size="14">20</text>
<text id="b_x30" x="445.02" y="199.80" font-size="14">30</text>
<text id="b_x100" x="504.09" y="199.80" font-size="14" textLength="15.73" lengthAdjust="spacingAndGlyphs">10</text>
<text id="b_x100s" x="519.42" y="193.70" font-size="9">2</text>
<text id="b_x200a" x="531.77" y="199.80" font-size="14">2</text>
<path d="M539.88,192.20L546.48,199.40M546.48,192.20L539.88,199.40" stroke="#000" stroke-width="0.95" fill="none"/>
<text id="b_x200b" x="547.50" y="199.80" font-size="14" textLength="15.73" lengthAdjust="spacingAndGlyphs">10</text>
<text id="b_x200s" x="562.43" y="193.70" font-size="9">2</text>
<text id="b_x1000" x="621.22" y="199.80" font-size="14" textLength="15.73" lengthAdjust="spacingAndGlyphs">10</text>
<text id="b_x1000s" x="636.65" y="193.70" font-size="9">3</text>
<text id="b_x2000a" x="648.90" y="199.80" font-size="14">2</text>
<path d="M657.00,192.20L663.60,199.40M663.60,192.20L657.00,199.40" stroke="#000" stroke-width="0.95" fill="none"/>
<text id="b_x2000b" x="664.62" y="199.80" font-size="14" textLength="15.73" lengthAdjust="spacingAndGlyphs">10</text>
<text id="b_x2000s" x="679.66" y="193.70" font-size="9">3</text>
<text id="b_xt_p" x="599.55" y="217.90" font-size="14" font-style="italic">p</text>
<text id="b_xt_tr" x="608.16" y="212.80" font-size="9.6" textLength="19.17" lengthAdjust="spacingAndGlyphs">truth</text>
<text id="b_xt_T" x="608.08" y="225.50" font-size="10">T</text>
<text id="b_xt_gev" x="630.70" y="218.30" font-size="14">[GeV]</text>
<text id="b_yt1" transform="translate(359.80,118.70) rotate(-90)" x="-1.18" y="0" font-size="14.6" textLength="68.12" lengthAdjust="spacingAndGlyphs">Resolution</text>
<text id="b_yt2" transform="translate(360.30,118.70) rotate(-90)" x="71.26" y="0" font-size="15.2">(</text>
<text id="b_yt3" transform="translate(361.40,118.70) rotate(-90)" x="75.93" y="0" font-size="13.5">σ</text>
<text id="b_yt4" transform="translate(362.00,118.70) rotate(-90)" x="84.71" y="0" font-size="8.5" font-style="italic">p</text>
<text id="b_yt5" transform="translate(362.80,118.70) rotate(-90)" x="88.57" y="0" font-size="6">T</text>
<text id="b_yt6" transform="translate(359.80,118.70) rotate(-90)" x="90.70" y="0" font-size="14.2">/</text>
<text id="b_yt7" transform="translate(359.80,118.70) rotate(-90)" x="96.25" y="0" font-size="14.2" font-style="italic">p</text>
<text id="b_yt8" transform="translate(362.40,118.70) rotate(-90)" x="103.70" y="0" font-size="9">T</text>
<text id="b_yt9" transform="translate(360.30,118.70) rotate(-90)" x="108.11" y="0" font-size="15.2">)</text>
<text id="b_atlas" x="408.33" y="22.00" font-size="14" font-weight="bold" font-style="italic" textLength="44.96" lengthAdjust="spacingAndGlyphs">ATLAS</text>
<text id="b_sim" x="457.27" y="22.00" font-size="14" textLength="64.73" lengthAdjust="spacingAndGlyphs">Simulation</text>
<text id="b_pyP" x="408.10" y="38.70" font-size="14" textLength="8.15" lengthAdjust="spacingAndGlyphs">P</text>
<text id="b_pyY" x="415.38" y="38.70" font-size="10.2" textLength="29.54" lengthAdjust="spacingAndGlyphs">YTHIA</text>
<text id="b_pyD" x="443.99" y="38.70" font-size="14" textLength="39.51" lengthAdjust="spacingAndGlyphs">8 Dijet</text>
<rect x="408.4" y="42.3" width="1.3" height="12.6" fill="#333"/>
<rect x="438.9" y="42.2" width="1.3" height="12.8" fill="#111"/>
<path d="M413.10,46.50Q414.10,44.90 415.60,45.80L415.60,52.00M415.60,47.00Q416.70,45.00 418.10,45.30Q419.50,45.60 419.50,47.40L419.50,54.90" fill="none" stroke="#000" stroke-width="1.1"/>
<text id="b_det" x="420.61" y="58.60" font-size="9.3" textLength="12.75" lengthAdjust="spacingAndGlyphs">det</text>
<path d="M447.5,45.6L443.0,49.05L447.5,52.5" fill="none" stroke="#000" stroke-width="1.15"/>
<text id="b_03" x="453.17" y="53.70" font-size="14" textLength="18.82" lengthAdjust="spacingAndGlyphs">0.3</text>
<text id="b_anti" x="407.62" y="70.90" font-size="14" textLength="26.59" lengthAdjust="spacingAndGlyphs">anti-</text>
<text id="b_k" x="434.07" y="70.90" font-size="14" font-style="italic">k</text>
<text id="b_t" x="442.17" y="74.50" font-size="9.5" font-style="italic">t</text>
<text id="b_comma" x="445.14" y="70.90" font-size="14">,</text>
<text id="b_R" x="451.97" y="70.90" font-size="14" font-style="italic">R</text>
<text id="b_eq" x="462.03" y="70.90" font-size="14" textLength="27.07" lengthAdjust="spacingAndGlyphs">=0.4</text>
<path d="M556.4,14.4L558.8,22.0L560.2,10.5H568.1" fill="none" stroke="#000" stroke-width="1.1"/>
<text id="b_sqrt" x="561.62" y="21.80" font-size="14" textLength="59.44" lengthAdjust="spacingAndGlyphs">s = 8 TeV</text>
<text id="b_alg" x="556.05" y="41.50" font-size="14">LCW+JES</text>
<circle cx="556.6" cy="54.5" r="2.65" fill="#000"/>
<text id="b_fs" x="564.26" y="57.60" font-size="14" textLength="46.46" lengthAdjust="spacingAndGlyphs">FullSim</text>
<rect x="553.9" y="68.6" width="5.3" height="5.3" fill="#f00"/>
<text id="b_af" x="564.97" y="73.90" font-size="14" textLength="25.09" lengthAdjust="spacingAndGlyphs">AFII</text>
<text id="b_sm1" x="552.51" y="91.00" font-size="8.6" textLength="51.88" lengthAdjust="spacingAndGlyphs">Solid: w/o GS</text>
<text id="b_sm2" x="608.40" y="91.00" font-size="8.6" textLength="49.79" lengthAdjust="spacingAndGlyphs">Empty: w GS</text>
<line x1="47.50" y1="383.18" x2="65.47" y2="383.18" stroke="#f44" stroke-width="1"/>
<line x1="65.47" y1="383.85" x2="95.41" y2="383.85" stroke="#f44" stroke-width="1"/>
<line x1="95.41" y1="376.08" x2="119.37" y2="376.08" stroke="#f44" stroke-width="1"/>
<line x1="119.37" y1="382.16" x2="137.33" y2="382.16" stroke="#f44" stroke-width="1"/>
<line x1="137.33" y1="381.15" x2="155.30" y2="381.15" stroke="#f44" stroke-width="1"/>
<line x1="155.30" y1="393.31" x2="173.27" y2="393.31" stroke="#f44" stroke-width="1"/>
<line x1="173.27" y1="400.75" x2="191.23" y2="400.75" stroke="#f44" stroke-width="1"/>
<line x1="191.23" y1="395.68" x2="215.19" y2="395.68" stroke="#f44" stroke-width="1"/>
<line x1="215.19" y1="396.35" x2="239.14" y2="396.35" stroke="#f44" stroke-width="1"/>
<line x1="239.14" y1="396.49" x2="263.10" y2="396.49" stroke="#f44" stroke-width="1"/>
<line x1="263.10" y1="403.72" x2="317.00" y2="403.72" stroke="#f44" stroke-width="1"/>
<rect x="54.03" y="380.73" width="4.9" height="4.9" fill="#fff" stroke="#f00" stroke-width="0.9"/>
<rect x="77.99" y="381.40" width="4.9" height="4.9" fill="#fff" stroke="#f00" stroke-width="0.9"/>
<rect x="104.94" y="373.63" width="4.9" height="4.9" fill="#fff" stroke="#f00" stroke-width="0.9"/>
<rect x="125.90" y="379.71" width="4.9" height="4.9" fill="#fff" stroke="#f00" stroke-width="0.9"/>
<rect x="143.87" y="378.70" width="4.9" height="4.9" fill="#fff" stroke="#f00" stroke-width="0.9"/>
<rect x="161.83" y="390.86" width="4.9" height="4.9" fill="#fff" stroke="#f00" stroke-width="0.9"/>
<rect x="179.80" y="398.30" width="4.9" height="4.9" fill="#fff" stroke="#f00" stroke-width="0.9"/>
<rect x="200.76" y="393.23" width="4.9" height="4.9" fill="#fff" stroke="#f00" stroke-width="0.9"/>
<rect x="224.72" y="393.90" width="4.9" height="4.9" fill="#fff" stroke="#f00" stroke-width="0.9"/>
<rect x="248.67" y="394.04" width="4.9" height="4.9" fill="#fff" stroke="#f00" stroke-width="0.9"/>
<rect x="287.60" y="401.27" width="4.9" height="4.9" fill="#fff" stroke="#f00" stroke-width="0.9"/>
<line x1="47.50" y1="380.98" x2="65.47" y2="380.98" stroke="#666" stroke-width="1"/>
<line x1="65.47" y1="385.27" x2="95.41" y2="385.27" stroke="#666" stroke-width="1"/>
<line x1="95.41" y1="384.36" x2="119.37" y2="384.36" stroke="#666" stroke-width="1"/>
<line x1="119.37" y1="382.57" x2="137.33" y2="382.57" stroke="#666" stroke-width="1"/>
<line x1="137.33" y1="375.07" x2="155.30" y2="375.07" stroke="#666" stroke-width="1"/>
<line x1="155.30" y1="389.93" x2="173.27" y2="389.93" stroke="#666" stroke-width="1"/>
<line x1="173.27" y1="395.34" x2="191.23" y2="395.34" stroke="#666" stroke-width="1"/>
<line x1="191.23" y1="399.39" x2="215.19" y2="399.39" stroke="#666" stroke-width="1"/>
<line x1="215.19" y1="394.16" x2="239.14" y2="394.16" stroke="#666" stroke-width="1"/>
<line x1="239.14" y1="379.86" x2="263.10" y2="379.86" stroke="#666" stroke-width="1"/>
<line x1="263.10" y1="390.17" x2="317.00" y2="390.17" stroke="#666" stroke-width="1"/>
<circle cx="56.48" cy="380.98" r="2.4" fill="#fff" stroke="#000" stroke-width="0.85"/>
<circle cx="80.44" cy="385.27" r="2.4" fill="#fff" stroke="#000" stroke-width="0.85"/>
<circle cx="107.39" cy="384.36" r="2.4" fill="#fff" stroke="#000" stroke-width="0.85"/>
<circle cx="128.35" cy="382.57" r="2.4" fill="#fff" stroke="#000" stroke-width="0.85"/>
<circle cx="146.32" cy="375.07" r="2.4" fill="#fff" stroke="#000" stroke-width="0.85"/>
<circle cx="164.28" cy="389.93" r="2.4" fill="#fff" stroke="#000" stroke-width="0.85"/>
<circle cx="182.25" cy="395.34" r="2.4" fill="#fff" stroke="#000" stroke-width="0.85"/>
<circle cx="203.21" cy="399.39" r="2.4" fill="#fff" stroke="#000" stroke-width="0.85"/>
<circle cx="227.17" cy="394.16" r="2.4" fill="#fff" stroke="#000" stroke-width="0.85"/>
<circle cx="251.12" cy="379.86" r="2.4" fill="#fff" stroke="#000" stroke-width="0.85"/>
<circle cx="290.05" cy="390.17" r="2.4" fill="#fff" stroke="#000" stroke-width="0.85"/>
<line x1="47.50" y1="380.13" x2="65.47" y2="380.13" stroke="#f00" stroke-width="1"/>
<line x1="65.47" y1="381.82" x2="95.41" y2="381.82" stroke="#f00" stroke-width="1"/>
<line x1="95.41" y1="374.39" x2="119.37" y2="374.39" stroke="#f00" stroke-width="1"/>
<line x1="119.37" y1="374.39" x2="137.33" y2="374.39" stroke="#f00" stroke-width="1"/>
<line x1="137.33" y1="382.09" x2="155.30" y2="382.09" stroke="#f00" stroke-width="1"/>
<line x1="155.30" y1="391.39" x2="173.27" y2="391.39" stroke="#f00" stroke-width="1"/>
<line x1="173.27" y1="401.76" x2="191.23" y2="401.76" stroke="#f00" stroke-width="1"/>
<line x1="191.23" y1="395.34" x2="215.19" y2="395.34" stroke="#f00" stroke-width="1"/>
<line x1="215.19" y1="397.03" x2="239.14" y2="397.03" stroke="#f00" stroke-width="1"/>
<line x1="239.14" y1="397.20" x2="263.10" y2="397.20" stroke="#f00" stroke-width="1"/>
<line x1="263.10" y1="403.72" x2="317.00" y2="403.72" stroke="#f00" stroke-width="1"/>
<rect x="53.88" y="377.53" width="5.2" height="5.2" fill="#f00"/>
<rect x="77.84" y="379.22" width="5.2" height="5.2" fill="#f00"/>
<rect x="104.79" y="371.79" width="5.2" height="5.2" fill="#f00"/>
<rect x="125.75" y="371.79" width="5.2" height="5.2" fill="#f00"/>
<rect x="143.72" y="379.49" width="5.2" height="5.2" fill="#f00"/>
<rect x="161.68" y="388.79" width="5.2" height="5.2" fill="#f00"/>
<rect x="179.65" y="399.16" width="5.2" height="5.2" fill="#f00"/>
<rect x="200.61" y="392.74" width="5.2" height="5.2" fill="#f00"/>
<rect x="224.57" y="394.43" width="5.2" height="5.2" fill="#f00"/>
<rect x="248.52" y="394.60" width="5.2" height="5.2" fill="#f00"/>
<rect x="287.45" y="401.12" width="5.2" height="5.2" fill="#f00"/>
<line x1="47.50" y1="380.64" x2="65.47" y2="380.64" stroke="#000" stroke-width="1"/>
<line x1="65.47" y1="380.64" x2="95.41" y2="380.64" stroke="#000" stroke-width="1"/>
<line x1="95.41" y1="378.55" x2="119.37" y2="378.55" stroke="#000" stroke-width="1"/>
<line x1="119.37" y1="380.24" x2="137.33" y2="380.24" stroke="#000" stroke-width="1"/>
<line x1="137.33" y1="380.00" x2="155.30" y2="380.00" stroke="#000" stroke-width="1"/>
<line x1="155.30" y1="388.68" x2="173.27" y2="388.68" stroke="#000" stroke-width="1"/>
<line x1="173.27" y1="393.65" x2="191.23" y2="393.65" stroke="#000" stroke-width="1"/>
<line x1="191.23" y1="396.49" x2="215.19" y2="396.49" stroke="#000" stroke-width="1"/>
<line x1="215.19" y1="393.65" x2="239.14" y2="393.65" stroke="#000" stroke-width="1"/>
<line x1="239.14" y1="379.36" x2="263.10" y2="379.36" stroke="#000" stroke-width="1"/>
<line x1="263.10" y1="390.17" x2="317.00" y2="390.17" stroke="#000" stroke-width="1"/>
<circle cx="56.48" cy="380.64" r="2.6" fill="#000"/>
<circle cx="80.44" cy="380.64" r="2.6" fill="#000"/>
<circle cx="107.39" cy="378.55" r="2.6" fill="#000"/>
<circle cx="128.35" cy="380.24" r="2.6" fill="#000"/>
<circle cx="146.32" cy="380.00" r="2.6" fill="#000"/>
<circle cx="164.28" cy="388.68" r="2.6" fill="#000"/>
<circle cx="182.25" cy="393.65" r="2.6" fill="#000"/>
<circle cx="203.21" cy="396.49" r="2.6" fill="#000"/>
<circle cx="227.17" cy="393.65" r="2.6" fill="#000"/>
<circle cx="251.12" cy="379.36" r="2.6" fill="#000"/>
<circle cx="290.05" cy="390.17" r="2.6" fill="#000"/>
<path d="M47.5,456.50h7.2M317.0,456.50h-7.2M47.5,449.74h3.6M317.0,449.74h-3.6M47.5,442.98h3.6M317.0,442.98h-3.6M47.5,436.23h3.6M317.0,436.23h-3.6M47.5,429.47h3.6M317.0,429.47h-3.6M47.5,422.71h7.2M317.0,422.71h-7.2M47.5,415.95h3.6M317.0,415.95h-3.6M47.5,409.19h3.6M317.0,409.19h-3.6M47.5,402.44h3.6M317.0,402.44h-3.6M47.5,395.68h3.6M317.0,395.68h-3.6M47.5,388.92h7.2M317.0,388.92h-7.2M47.5,382.16h3.6M317.0,382.16h-3.6M47.5,375.40h3.6M317.0,375.40h-3.6M47.5,368.65h3.6M317.0,368.65h-3.6M47.5,361.89h3.6M317.0,361.89h-3.6M47.5,355.13h7.2M317.0,355.13h-7.2M47.5,348.37h3.6M317.0,348.37h-3.6M47.5,341.61h3.6M317.0,341.61h-3.6M47.5,334.86h3.6M317.0,334.86h-3.6M47.5,328.10h3.6M317.0,328.10h-3.6M47.5,321.34h7.2M317.0,321.34h-7.2M47.5,314.58h3.6M317.0,314.58h-3.6M47.5,307.82h3.6M317.0,307.82h-3.6M47.5,301.07h3.6M317.0,301.07h-3.6M47.5,294.31h3.6M317.0,294.31h-3.6M47.5,287.55h7.2M317.0,287.55h-7.2M53.50,462.5v-2.6M53.50,287.5v2.6M59.50,462.5v-2.6M59.50,287.5v2.6M65.50,462.5v-2.6M65.50,287.5v2.6M71.50,462.5v-2.6M71.50,287.5v2.6M77.50,462.5v-5.2M77.50,287.5v5.2M83.50,462.5v-2.6M83.50,287.5v2.6M89.50,462.5v-2.6M89.50,287.5v2.6M95.50,462.5v-2.6M95.50,287.5v2.6M101.50,462.5v-2.6M101.50,287.5v2.6M107.50,462.5v-5.2M107.50,287.5v5.2M113.50,462.5v-2.6M113.50,287.5v2.6M119.50,462.5v-2.6M119.50,287.5v2.6M125.50,462.5v-2.6M125.50,287.5v2.6M131.50,462.5v-2.6M131.50,287.5v2.6M137.50,462.5v-5.2M137.50,287.5v5.2M143.50,462.5v-2.6M143.50,287.5v2.6M149.50,462.5v-2.6M149.50,287.5v2.6M155.50,462.5v-2.6M155.50,287.5v2.6M161.50,462.5v-2.6M161.50,287.5v2.6M167.50,462.5v-5.2M167.50,287.5v5.2M173.50,462.5v-2.6M173.50,287.5v2.6M179.50,462.5v-2.6M179.50,287.5v2.6M185.50,462.5v-2.6M185.50,287.5v2.6M191.50,462.5v-2.6M191.50,287.5v2.6M197.50,462.5v-5.2M197.50,287.5v5.2M203.50,462.5v-2.6M203.50,287.5v2.6M209.50,462.5v-2.6M209.50,287.5v2.6M215.50,462.5v-2.6M215.50,287.5v2.6M221.50,462.5v-2.6M221.50,287.5v2.6M227.50,462.5v-5.2M227.50,287.5v5.2M233.50,462.5v-2.6M233.50,287.5v2.6M239.50,462.5v-2.6M239.50,287.5v2.6M245.50,462.5v-2.6M245.50,287.5v2.6M251.50,462.5v-2.6M251.50,287.5v2.6M257.50,462.5v-5.2M257.50,287.5v5.2M263.50,462.5v-2.6M263.50,287.5v2.6M269.50,462.5v-2.6M269.50,287.5v2.6M275.50,462.5v-2.6M275.50,287.5v2.6M281.50,462.5v-2.6M281.50,287.5v2.6M287.50,462.5v-5.2M287.50,287.5v5.2M293.50,462.5v-2.6M293.50,287.5v2.6M299.50,462.5v-2.6M299.50,287.5v2.6M305.50,462.5v-2.6M305.50,287.5v2.6M311.50,462.5v-2.6M311.50,287.5v2.6" stroke="#303030" stroke-width="1" fill="none"/>
<line x1="47.5" y1="456.50" x2="317.0" y2="456.50" stroke="#555" stroke-width="1" stroke-dasharray="2,1.65"/>
<path d="M47.5,287.0V463.0M47.0,287.5H317.7M47.0,462.5H317.7" fill="none" stroke="#303030" stroke-width="1"/>
<path d="M316.95,287.0V463.0" fill="none" stroke="#303030" stroke-width="1.15"/>
<text id="c_yl0" x="37.70" y="461.60" font-size="14.5">0</text>
<text id="c_yl1" x="25.75" y="427.81" font-size="14.5">0.1</text>
<text id="c_yl2" x="25.77" y="394.02" font-size="14.5">0.2</text>
<text id="c_yl3" x="25.68" y="360.23" font-size="14.5">0.3</text>
<text id="c_yl4" x="25.47" y="326.44" font-size="14.5">0.4</text>
<text id="c_yl5" x="25.65" y="292.65" font-size="14.5">0.5</text>
<text id="c_xl0" x="43.61" y="476.00" font-size="14">0</text>
<text id="c_xl1" x="67.73" y="476.00" font-size="14">0.5</text>
<text id="c_xl2" x="103.30" y="476.00" font-size="14">1</text>
<text id="c_xl3" x="127.36" y="476.00" font-size="14">1.5</text>
<text id="c_xl4" x="163.38" y="476.00" font-size="14">2</text>
<text id="c_xl5" x="187.43" y="476.00" font-size="14">2.5</text>
<text id="c_xl6" x="223.31" y="476.00" font-size="14">3</text>
<text id="c_xl7" x="247.41" y="476.00" font-size="14">3.5</text>
<text id="c_xl8" x="283.21" y="476.00" font-size="14">4</text>
<text id="c_xl9" x="307.40" y="476.00" font-size="14">4.5</text>
<rect x="283.8" y="483.00" width="1.2" height="13.3" fill="#222"/>
<rect x="315.7" y="483.00" width="1.2" height="13.3" fill="#222"/>
<path d="M289.05,487.20Q290.12,485.48 291.73,486.45L291.73,493.14M291.73,487.74Q292.90,485.58 294.40,485.91Q295.90,486.23 295.90,488.18L295.90,496.28" fill="none" stroke="#000" stroke-width="1.1"/>
<text id="c_xt_det" x="296.49" y="500.50" font-size="9.6" textLength="13.69" lengthAdjust="spacingAndGlyphs">det</text>
<text id="c_yt1" transform="translate(10.30,399.90) rotate(-90)" x="-1.18" y="0" font-size="14.6" textLength="68.12" lengthAdjust="spacingAndGlyphs">Resolution</text>
<text id="c_yt2" transform="translate(10.80,399.90) rotate(-90)" x="71.26" y="0" font-size="15.2">(</text>
<text id="c_yt3" transform="translate(11.90,399.90) rotate(-90)" x="75.93" y="0" font-size="13.5">σ</text>
<text id="c_yt4" transform="translate(12.50,399.90) rotate(-90)" x="84.71" y="0" font-size="8.5" font-style="italic">p</text>
<text id="c_yt5" transform="translate(13.30,399.90) rotate(-90)" x="88.57" y="0" font-size="6">T</text>
<text id="c_yt6" transform="translate(10.30,399.90) rotate(-90)" x="90.70" y="0" font-size="14.2">/</text>
<text id="c_yt7" transform="translate(10.30,399.90) rotate(-90)" x="96.25" y="0" font-size="14.2" font-style="italic">p</text>
<text id="c_yt8" transform="translate(12.90,399.90) rotate(-90)" x="103.70" y="0" font-size="9">T</text>
<text id="c_yt9" transform="translate(10.80,399.90) rotate(-90)" x="108.11" y="0" font-size="15.2">)</text>
<text id="c_atlas" x="58.33" y="303.20" font-size="14" font-weight="bold" font-style="italic" textLength="44.96" lengthAdjust="spacingAndGlyphs">ATLAS</text>
<text id="c_sim" x="107.27" y="303.20" font-size="14" textLength="64.73" lengthAdjust="spacingAndGlyphs">Simulation</text>
<text id="c_pyP" x="58.10" y="319.90" font-size="14" textLength="8.15" lengthAdjust="spacingAndGlyphs">P</text>
<text id="c_pyY" x="65.38" y="319.90" font-size="10.2" textLength="29.54" lengthAdjust="spacingAndGlyphs">YTHIA</text>
<text id="c_pyD" x="93.99" y="319.90" font-size="14" textLength="39.51" lengthAdjust="spacingAndGlyphs">8 Dijet</text>
<text id="c_ptl20" x="57.84" y="336.30" font-size="14" textLength="14.57" lengthAdjust="spacingAndGlyphs">20</text>
<text id="c_ptle" x="75.53" y="336.30" font-size="14" textLength="8.34" lengthAdjust="spacingAndGlyphs">≤</text>
<text id="c_ptp" x="86.65" y="336.30" font-size="14" font-style="italic">p</text>
<text id="c_ptT" x="94.99" y="341.70" font-size="9.5" textLength="5.83" lengthAdjust="spacingAndGlyphs">T</text>
<path d="M110.6,329.80L105.8,332.65L110.6,335.50" fill="none" stroke="#000" stroke-width="1.1"/>
<text id="c_pt25" x="115.99" y="336.30" font-size="14" textLength="15.70" lengthAdjust="spacingAndGlyphs">25</text>
<text id="c_ptgev" x="135.93" y="336.30" font-size="14" textLength="26.52" lengthAdjust="spacingAndGlyphs">GeV</text>
<text id="c_anti" x="57.62" y="352.10" font-size="14" textLength="26.59" lengthAdjust="spacingAndGlyphs">anti-</text>
<text id="c_k" x="84.07" y="352.10" font-size="14" font-style="italic">k</text>
<text id="c_t" x="92.17" y="355.70" font-size="9.5" font-style="italic">t</text>
<text id="c_comma" x="95.14" y="352.10" font-size="14">,</text>
<text id="c_R" x="101.97" y="352.10" font-size="14" font-style="italic">R</text>
<text id="c_eq" x="112.03" y="352.10" font-size="14" textLength="27.07" lengthAdjust="spacingAndGlyphs">=0.4</text>
<path d="M206.4,295.59999999999997L208.8,303.2L210.2,291.7H218.1" fill="none" stroke="#000" stroke-width="1.1"/>
<text id="c_sqrt" x="211.62" y="303.00" font-size="14" textLength="59.44" lengthAdjust="spacingAndGlyphs">s = 8 TeV</text>
<text id="c_alg" x="206.05" y="322.70" font-size="14">EM+JES</text>
<circle cx="206.6" cy="335.7" r="2.65" fill="#000"/>
<text id="c_fs" x="214.26" y="338.80" font-size="14" textLength="46.46" lengthAdjust="spacingAndGlyphs">FullSim</text>
<rect x="203.9" y="349.79999999999995" width="5.3" height="5.3" fill="#f00"/>
<text id="c_af" x="214.97" y="355.10" font-size="14" textLength="25.09" lengthAdjust="spacingAndGlyphs">AFII</text>
<text id="c_sm1" x="202.51" y="372.20" font-size="8.6" textLength="51.88" lengthAdjust="spacingAndGlyphs">Solid: w/o GS</text>
<text id="c_sm2" x="258.40" y="372.20" font-size="8.6" textLength="49.79" lengthAdjust="spacingAndGlyphs">Empty: w GS</text>
<line x1="397.50" y1="378.55" x2="415.47" y2="378.55" stroke="#f44" stroke-width="1"/>
<line x1="415.47" y1="380.95" x2="445.41" y2="380.95" stroke="#f44" stroke-width="1"/>
<line x1="445.41" y1="379.12" x2="469.37" y2="379.12" stroke="#f44" stroke-width="1"/>
<line x1="469.37" y1="384.76" x2="487.33" y2="384.76" stroke="#f44" stroke-width="1"/>
<line x1="487.33" y1="380.24" x2="505.30" y2="380.24" stroke="#f44" stroke-width="1"/>
<line x1="505.30" y1="389.80" x2="523.27" y2="389.80" stroke="#f44" stroke-width="1"/>
<line x1="523.27" y1="392.30" x2="541.23" y2="392.30" stroke="#f44" stroke-width="1"/>
<line x1="541.23" y1="392.30" x2="565.19" y2="392.30" stroke="#f44" stroke-width="1"/>
<line x1="565.19" y1="390.61" x2="589.14" y2="390.61" stroke="#f44" stroke-width="1"/>
<line x1="589.14" y1="392.70" x2="613.10" y2="392.70" stroke="#f44" stroke-width="1"/>
<line x1="613.10" y1="402.44" x2="667.00" y2="402.44" stroke="#f44" stroke-width="1"/>
<rect x="404.03" y="376.10" width="4.9" height="4.9" fill="#fff" stroke="#f00" stroke-width="0.9"/>
<rect x="427.99" y="378.50" width="4.9" height="4.9" fill="#fff" stroke="#f00" stroke-width="0.9"/>
<rect x="454.94" y="376.67" width="4.9" height="4.9" fill="#fff" stroke="#f00" stroke-width="0.9"/>
<rect x="475.90" y="382.31" width="4.9" height="4.9" fill="#fff" stroke="#f00" stroke-width="0.9"/>
<rect x="493.87" y="377.79" width="4.9" height="4.9" fill="#fff" stroke="#f00" stroke-width="0.9"/>
<rect x="511.83" y="387.35" width="4.9" height="4.9" fill="#fff" stroke="#f00" stroke-width="0.9"/>
<rect x="529.80" y="389.85" width="4.9" height="4.9" fill="#fff" stroke="#f00" stroke-width="0.9"/>
<rect x="550.76" y="389.85" width="4.9" height="4.9" fill="#fff" stroke="#f00" stroke-width="0.9"/>
<rect x="574.72" y="388.16" width="4.9" height="4.9" fill="#fff" stroke="#f00" stroke-width="0.9"/>
<rect x="598.67" y="390.25" width="4.9" height="4.9" fill="#fff" stroke="#f00" stroke-width="0.9"/>
<rect x="637.60" y="399.99" width="4.9" height="4.9" fill="#fff" stroke="#f00" stroke-width="0.9"/>
<line x1="397.50" y1="374.59" x2="415.47" y2="374.59" stroke="#666" stroke-width="1"/>
<line x1="415.47" y1="375.24" x2="445.41" y2="375.24" stroke="#666" stroke-width="1"/>
<line x1="445.41" y1="376.92" x2="469.37" y2="376.92" stroke="#666" stroke-width="1"/>
<line x1="469.37" y1="377.23" x2="487.33" y2="377.23" stroke="#666" stroke-width="1"/>
<line x1="487.33" y1="374.32" x2="505.30" y2="374.32" stroke="#666" stroke-width="1"/>
<line x1="505.30" y1="381.86" x2="523.27" y2="381.86" stroke="#666" stroke-width="1"/>
<line x1="523.27" y1="390.68" x2="541.23" y2="390.68" stroke="#666" stroke-width="1"/>
<line x1="541.23" y1="391.79" x2="565.19" y2="391.79" stroke="#666" stroke-width="1"/>
<line x1="565.19" y1="390.37" x2="589.14" y2="390.37" stroke="#666" stroke-width="1"/>
<line x1="589.14" y1="383.58" x2="613.10" y2="383.58" stroke="#666" stroke-width="1"/>
<line x1="613.10" y1="389.26" x2="667.00" y2="389.26" stroke="#666" stroke-width="1"/>
<circle cx="406.48" cy="374.59" r="2.4" fill="#fff" stroke="#000" stroke-width="0.85"/>
<circle cx="430.44" cy="375.24" r="2.4" fill="#fff" stroke="#000" stroke-width="0.85"/>
<circle cx="457.39" cy="376.92" r="2.4" fill="#fff" stroke="#000" stroke-width="0.85"/>
<circle cx="478.35" cy="377.23" r="2.4" fill="#fff" stroke="#000" stroke-width="0.85"/>
<circle cx="496.32" cy="374.32" r="2.4" fill="#fff" stroke="#000" stroke-width="0.85"/>
<circle cx="514.28" cy="381.86" r="2.4" fill="#fff" stroke="#000" stroke-width="0.85"/>
<circle cx="532.25" cy="390.68" r="2.4" fill="#fff" stroke="#000" stroke-width="0.85"/>
<circle cx="553.21" cy="391.79" r="2.4" fill="#fff" stroke="#000" stroke-width="0.85"/>
<circle cx="577.17" cy="390.37" r="2.4" fill="#fff" stroke="#000" stroke-width="0.85"/>
<circle cx="601.12" cy="383.58" r="2.4" fill="#fff" stroke="#000" stroke-width="0.85"/>
<circle cx="640.05" cy="389.26" r="2.4" fill="#fff" stroke="#000" stroke-width="0.85"/>
<line x1="397.50" y1="378.55" x2="415.47" y2="378.55" stroke="#f00" stroke-width="1"/>
<line x1="415.47" y1="380.95" x2="445.41" y2="380.95" stroke="#f00" stroke-width="1"/>
<line x1="445.41" y1="379.12" x2="469.37" y2="379.12" stroke="#f00" stroke-width="1"/>
<line x1="469.37" y1="376.42" x2="487.33" y2="376.42" stroke="#f00" stroke-width="1"/>
<line x1="487.33" y1="380.24" x2="505.30" y2="380.24" stroke="#f00" stroke-width="1"/>
<line x1="505.30" y1="385.20" x2="523.27" y2="385.20" stroke="#f00" stroke-width="1"/>
<line x1="523.27" y1="391.69" x2="541.23" y2="391.69" stroke="#f00" stroke-width="1"/>
<line x1="541.23" y1="392.30" x2="565.19" y2="392.30" stroke="#f00" stroke-width="1"/>
<line x1="565.19" y1="390.61" x2="589.14" y2="390.61" stroke="#f00" stroke-width="1"/>
<line x1="589.14" y1="392.70" x2="613.10" y2="392.70" stroke="#f00" stroke-width="1"/>
<line x1="613.10" y1="402.44" x2="667.00" y2="402.44" stroke="#f00" stroke-width="1"/>
<rect x="403.88" y="375.95" width="5.2" height="5.2" fill="#f00"/>
<rect x="427.84" y="378.35" width="5.2" height="5.2" fill="#f00"/>
<rect x="454.79" y="376.52" width="5.2" height="5.2" fill="#f00"/>
<rect x="475.75" y="373.82" width="5.2" height="5.2" fill="#f00"/>
<rect x="493.72" y="377.64" width="5.2" height="5.2" fill="#f00"/>
<rect x="511.68" y="382.60" width="5.2" height="5.2" fill="#f00"/>
<rect x="529.65" y="389.09" width="5.2" height="5.2" fill="#f00"/>
<rect x="550.61" y="389.70" width="5.2" height="5.2" fill="#f00"/>
<rect x="574.57" y="388.01" width="5.2" height="5.2" fill="#f00"/>
<rect x="598.52" y="390.10" width="5.2" height="5.2" fill="#f00"/>
<rect x="637.45" y="399.84" width="5.2" height="5.2" fill="#f00"/>
<line x1="397.50" y1="374.59" x2="415.47" y2="374.59" stroke="#000" stroke-width="1"/>
<line x1="415.47" y1="375.24" x2="445.41" y2="375.24" stroke="#000" stroke-width="1"/>
<line x1="445.41" y1="374.83" x2="469.37" y2="374.83" stroke="#000" stroke-width="1"/>
<line x1="469.37" y1="377.23" x2="487.33" y2="377.23" stroke="#000" stroke-width="1"/>
<line x1="487.33" y1="374.32" x2="505.30" y2="374.32" stroke="#000" stroke-width="1"/>
<line x1="505.30" y1="381.86" x2="523.27" y2="381.86" stroke="#000" stroke-width="1"/>
<line x1="523.27" y1="390.68" x2="541.23" y2="390.68" stroke="#000" stroke-width="1"/>
<line x1="541.23" y1="391.79" x2="565.19" y2="391.79" stroke="#000" stroke-width="1"/>
<line x1="565.19" y1="390.37" x2="589.14" y2="390.37" stroke="#000" stroke-width="1"/>
<line x1="589.14" y1="383.58" x2="613.10" y2="383.58" stroke="#000" stroke-width="1"/>
<line x1="613.10" y1="389.26" x2="667.00" y2="389.26" stroke="#000" stroke-width="1"/>
<circle cx="406.48" cy="374.59" r="2.6" fill="#000"/>
<circle cx="430.44" cy="375.24" r="2.6" fill="#000"/>
<circle cx="457.39" cy="374.83" r="2.6" fill="#000"/>
<circle cx="478.35" cy="377.23" r="2.6" fill="#000"/>
<circle cx="496.32" cy="374.32" r="2.6" fill="#000"/>
<circle cx="514.28" cy="381.86" r="2.6" fill="#000"/>
<circle cx="532.25" cy="390.68" r="2.6" fill="#000"/>
<circle cx="553.21" cy="391.79" r="2.6" fill="#000"/>
<circle cx="577.17" cy="390.37" r="2.6" fill="#000"/>
<circle cx="601.12" cy="383.58" r="2.6" fill="#000"/>
<circle cx="640.05" cy="389.26" r="2.6" fill="#000"/>
<path d="M397.5,456.50h7.2M667.0,456.50h-7.2M397.5,449.74h3.6M667.0,449.74h-3.6M397.5,442.98h3.6M667.0,442.98h-3.6M397.5,436.23h3.6M667.0,436.23h-3.6M397.5,429.47h3.6M667.0,429.47h-3.6M397.5,422.71h7.2M667.0,422.71h-7.2M397.5,415.95h3.6M667.0,415.95h-3.6M397.5,409.19h3.6M667.0,409.19h-3.6M397.5,402.44h3.6M667.0,402.44h-3.6M397.5,395.68h3.6M667.0,395.68h-3.6M397.5,388.92h7.2M667.0,388.92h-7.2M397.5,382.16h3.6M667.0,382.16h-3.6M397.5,375.40h3.6M667.0,375.40h-3.6M397.5,368.65h3.6M667.0,368.65h-3.6M397.5,361.89h3.6M667.0,361.89h-3.6M397.5,355.13h7.2M667.0,355.13h-7.2M397.5,348.37h3.6M667.0,348.37h-3.6M397.5,341.61h3.6M667.0,341.61h-3.6M397.5,334.86h3.6M667.0,334.86h-3.6M397.5,328.10h3.6M667.0,328.10h-3.6M397.5,321.34h7.2M667.0,321.34h-7.2M397.5,314.58h3.6M667.0,314.58h-3.6M397.5,307.82h3.6M667.0,307.82h-3.6M397.5,301.07h3.6M667.0,301.07h-3.6M397.5,294.31h3.6M667.0,294.31h-3.6M397.5,287.55h7.2M667.0,287.55h-7.2M403.50,462.5v-2.6M403.50,287.5v2.6M409.50,462.5v-2.6M409.50,287.5v2.6M415.50,462.5v-2.6M415.50,287.5v2.6M421.50,462.5v-2.6M421.50,287.5v2.6M427.50,462.5v-5.2M427.50,287.5v5.2M433.50,462.5v-2.6M433.50,287.5v2.6M439.50,462.5v-2.6M439.50,287.5v2.6M445.50,462.5v-2.6M445.50,287.5v2.6M451.50,462.5v-2.6M451.50,287.5v2.6M457.50,462.5v-5.2M457.50,287.5v5.2M463.50,462.5v-2.6M463.50,287.5v2.6M469.50,462.5v-2.6M469.50,287.5v2.6M475.50,462.5v-2.6M475.50,287.5v2.6M481.50,462.5v-2.6M481.50,287.5v2.6M487.50,462.5v-5.2M487.50,287.5v5.2M493.50,462.5v-2.6M493.50,287.5v2.6M499.50,462.5v-2.6M499.50,287.5v2.6M505.50,462.5v-2.6M505.50,287.5v2.6M511.50,462.5v-2.6M511.50,287.5v2.6M517.50,462.5v-5.2M517.50,287.5v5.2M523.50,462.5v-2.6M523.50,287.5v2.6M529.50,462.5v-2.6M529.50,287.5v2.6M535.50,462.5v-2.6M535.50,287.5v2.6M541.50,462.5v-2.6M541.50,287.5v2.6M547.50,462.5v-5.2M547.50,287.5v5.2M553.50,462.5v-2.6M553.50,287.5v2.6M559.50,462.5v-2.6M559.50,287.5v2.6M565.50,462.5v-2.6M565.50,287.5v2.6M571.50,462.5v-2.6M571.50,287.5v2.6M577.50,462.5v-5.2M577.50,287.5v5.2M583.50,462.5v-2.6M583.50,287.5v2.6M589.50,462.5v-2.6M589.50,287.5v2.6M595.50,462.5v-2.6M595.50,287.5v2.6M601.50,462.5v-2.6M601.50,287.5v2.6M607.50,462.5v-5.2M607.50,287.5v5.2M613.50,462.5v-2.6M613.50,287.5v2.6M619.50,462.5v-2.6M619.50,287.5v2.6M625.50,462.5v-2.6M625.50,287.5v2.6M631.50,462.5v-2.6M631.50,287.5v2.6M637.50,462.5v-5.2M637.50,287.5v5.2M643.50,462.5v-2.6M643.50,287.5v2.6M649.50,462.5v-2.6M649.50,287.5v2.6M655.50,462.5v-2.6M655.50,287.5v2.6M661.50,462.5v-2.6M661.50,287.5v2.6" stroke="#303030" stroke-width="1" fill="none"/>
<line x1="397.5" y1="456.50" x2="667.0" y2="456.50" stroke="#555" stroke-width="1" stroke-dasharray="2,1.65"/>
<path d="M397.5,287.0V463.0M397.0,287.5H667.7M397.0,462.5H667.7" fill="none" stroke="#303030" stroke-width="1"/>
<path d="M666.95,287.0V463.0" fill="none" stroke="#303030" stroke-width="1.15"/>
<text id="d_yl0" x="387.70" y="461.60" font-size="14.5">0</text>
<text id="d_yl1" x="375.75" y="427.81" font-size="14.5">0.1</text>
<text id="d_yl2" x="375.77" y="394.02" font-size="14.5">0.2</text>
<text id="d_yl3" x="375.68" y="360.23" font-size="14.5">0.3</text>
<text id="d_yl4" x="375.47" y="326.44" font-size="14.5">0.4</text>
<text id="d_yl5" x="375.65" y="292.65" font-size="14.5">0.5</text>
<text id="d_xl0" x="393.61" y="476.00" font-size="14">0</text>
<text id="d_xl1" x="417.73" y="476.00" font-size="14">0.5</text>
<text id="d_xl2" x="453.30" y="476.00" font-size="14">1</text>
<text id="d_xl3" x="477.36" y="476.00" font-size="14">1.5</text>
<text id="d_xl4" x="513.38" y="476.00" font-size="14">2</text>
<text id="d_xl5" x="537.43" y="476.00" font-size="14">2.5</text>
<text id="d_xl6" x="573.31" y="476.00" font-size="14">3</text>
<text id="d_xl7" x="597.41" y="476.00" font-size="14">3.5</text>
<text id="d_xl8" x="633.21" y="476.00" font-size="14">4</text>
<text id="d_xl9" x="657.40" y="476.00" font-size="14">4.5</text>
<rect x="633.8" y="483.00" width="1.2" height="13.3" fill="#222"/>
<rect x="665.7" y="483.00" width="1.2" height="13.3" fill="#222"/>
<path d="M639.05,487.20Q640.12,485.48 641.72,486.45L641.72,493.14M641.72,487.74Q642.90,485.58 644.40,485.91Q645.90,486.23 645.90,488.18L645.90,496.28" fill="none" stroke="#000" stroke-width="1.1"/>
<text id="d_xt_det" x="646.49" y="500.50" font-size="9.6" textLength="13.69" lengthAdjust="spacingAndGlyphs">det</text>
<text id="d_yt1" transform="translate(359.80,399.90) rotate(-90)" x="-1.18" y="0" font-size="14.6" textLength="68.12" lengthAdjust="spacingAndGlyphs">Resolution</text>
<text id="d_yt2" transform="translate(360.30,399.90) rotate(-90)" x="71.26" y="0" font-size="15.2">(</text>
<text id="d_yt3" transform="translate(361.40,399.90) rotate(-90)" x="75.93" y="0" font-size="13.5">σ</text>
<text id="d_yt4" transform="translate(362.00,399.90) rotate(-90)" x="84.71" y="0" font-size="8.5" font-style="italic">p</text>
<text id="d_yt5" transform="translate(362.80,399.90) rotate(-90)" x="88.57" y="0" font-size="6">T</text>
<text id="d_yt6" transform="translate(359.80,399.90) rotate(-90)" x="90.70" y="0" font-size="14.2">/</text>
<text id="d_yt7" transform="translate(359.80,399.90) rotate(-90)" x="96.25" y="0" font-size="14.2" font-style="italic">p</text>
<text id="d_yt8" transform="translate(362.40,399.90) rotate(-90)" x="103.70" y="0" font-size="9">T</text>
<text id="d_yt9" transform="translate(360.30,399.90) rotate(-90)" x="108.11" y="0" font-size="15.2">)</text>
<text id="d_atlas" x="408.33" y="303.20" font-size="14" font-weight="bold" font-style="italic" textLength="44.96" lengthAdjust="spacingAndGlyphs">ATLAS</text>
<text id="d_sim" x="457.27" y="303.20" font-size="14" textLength="64.73" lengthAdjust="spacingAndGlyphs">Simulation</text>
<text id="d_pyP" x="408.10" y="319.90" font-size="14" textLength="8.15" lengthAdjust="spacingAndGlyphs">P</text>
<text id="d_pyY" x="415.38" y="319.90" font-size="10.2" textLength="29.54" lengthAdjust="spacingAndGlyphs">YTHIA</text>
<text id="d_pyD" x="443.99" y="319.90" font-size="14" textLength="39.51" lengthAdjust="spacingAndGlyphs">8 Dijet</text>
<text id="d_ptl20" x="407.84" y="336.30" font-size="14" textLength="14.57" lengthAdjust="spacingAndGlyphs">20</text>
<text id="d_ptle" x="425.53" y="336.30" font-size="14" textLength="8.34" lengthAdjust="spacingAndGlyphs">≤</text>
<text id="d_ptp" x="436.65" y="336.30" font-size="14" font-style="italic">p</text>
<text id="d_ptT" x="444.99" y="341.70" font-size="9.5" textLength="5.83" lengthAdjust="spacingAndGlyphs">T</text>
<path d="M460.6,329.80L455.8,332.65L460.6,335.50" fill="none" stroke="#000" stroke-width="1.1"/>
<text id="d_pt25" x="465.99" y="336.30" font-size="14" textLength="15.70" lengthAdjust="spacingAndGlyphs">25</text>
<text id="d_ptgev" x="485.93" y="336.30" font-size="14" textLength="26.52" lengthAdjust="spacingAndGlyphs">GeV</text>
<text id="d_anti" x="407.62" y="352.10" font-size="14" textLength="26.59" lengthAdjust="spacingAndGlyphs">anti-</text>
<text id="d_k" x="434.07" y="352.10" font-size="14" font-style="italic">k</text>
<text id="d_t" x="442.17" y="355.70" font-size="9.5" font-style="italic">t</text>
<text id="d_comma" x="445.14" y="352.10" font-size="14">,</text>
<text id="d_R" x="451.97" y="352.10" font-size="14" font-style="italic">R</text>
<text id="d_eq" x="462.03" y="352.10" font-size="14" textLength="27.07" lengthAdjust="spacingAndGlyphs">=0.4</text>
<path d="M556.4,295.59999999999997L558.8,303.2L560.2,291.7H568.1" fill="none" stroke="#000" stroke-width="1.1"/>
<text id="d_sqrt" x="561.62" y="303.00" font-size="14" textLength="59.44" lengthAdjust="spacingAndGlyphs">s = 8 TeV</text>
<text id="d_alg" x="556.05" y="322.70" font-size="14">LCW+JES</text>
<circle cx="556.6" cy="335.7" r="2.65" fill="#000"/>
<text id="d_fs" x="564.26" y="338.80" font-size="14" textLength="46.46" lengthAdjust="spacingAndGlyphs">FullSim</text>
<rect x="553.9" y="349.79999999999995" width="5.3" height="5.3" fill="#f00"/>
<text id="d_af" x="564.97" y="355.10" font-size="14" textLength="25.09" lengthAdjust="spacingAndGlyphs">AFII</text>
<text id="d_sm1" x="552.51" y="372.20" font-size="8.6" textLength="51.88" lengthAdjust="spacingAndGlyphs">Solid: w/o GS</text>
<text id="d_sm2" x="608.40" y="372.20" font-size="8.6" textLength="49.79" lengthAdjust="spacingAndGlyphs">Empty: w GS</text>
<text id="lab_a" class="ser" x="154.46" y="244.60" font-size="15.5" textLength="19.58" lengthAdjust="spacingAndGlyphs">(a)</text>
<text id="lab_b" class="ser" x="518.98" y="244.60" font-size="15.5" textLength="20.15" lengthAdjust="spacingAndGlyphs">(b)</text>
<text id="lab_c" class="ser" x="154.66" y="501.90" font-size="15.5" textLength="18.57" lengthAdjust="spacingAndGlyphs">(c)</text>
<text id="lab_d" class="ser" x="518.98" y="501.90" font-size="15.5" textLength="20.15" lengthAdjust="spacingAndGlyphs">(d)</text>
</svg></body></html>
